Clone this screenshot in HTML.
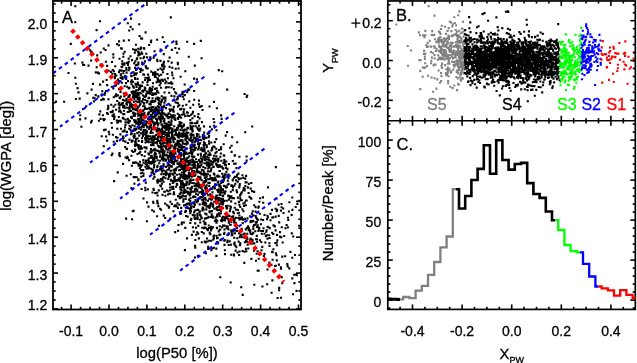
<!DOCTYPE html>
<html><head><meta charset="utf-8"><style>
html,body{margin:0;padding:0;background:#fff;}
svg{display:block;font-family:"Liberation Sans", sans-serif;will-change:transform;}
</style></head><body>
<svg xmlns="http://www.w3.org/2000/svg" width="637" height="363" viewBox="0 0 637 363">
<rect width="637" height="363" fill="#fff"/>
<g id="scA"><path d="M172.3 186.8h0M138.4 123.0h0M161.0 132.3h0M194.5 202.2h0M279.2 287.9h0M130.6 103.3h0M160.5 60.9h0M133.0 109.1h0M157.7 139.2h0M138.2 113.3h0M193.1 160.5h0M179.0 170.3h0M91.8 120.8h0M181.2 153.3h0M90.2 50.4h0M216.9 108.3h0M262.3 246.9h0M198.0 199.0h0M204.5 156.5h0M184.1 109.4h0M182.5 91.9h0M151.1 156.8h0M146.7 132.5h0M229.9 211.1h0M159.1 100.6h0M159.3 113.4h0M202.4 209.1h0M151.5 127.2h0M164.3 113.6h0M127.2 86.7h0M162.7 152.6h0M152.1 117.7h0M233.2 212.2h0M148.9 123.0h0M194.9 204.6h0M169.6 156.4h0M170.5 154.2h0M261.2 231.0h0M219.4 234.9h0M129.5 87.7h0M140.5 122.5h0M148.5 98.2h0M204.8 241.6h0M170.6 170.8h0M177.1 128.3h0M175.2 232.1h0M159.2 128.8h0M198.0 176.7h0M120.4 134.4h0M121.5 66.8h0M160.1 208.8h0M199.0 100.6h0M183.6 112.4h0M175.7 102.5h0M145.4 130.1h0M190.5 147.9h0M181.6 108.8h0M181.1 140.4h0M163.6 98.7h0M190.8 138.1h0M186.7 162.1h0M173.3 140.3h0M171.5 128.6h0M224.9 250.2h0M136.1 69.9h0M152.7 132.7h0M193.5 135.2h0M181.2 174.7h0M120.9 74.2h0M141.8 120.2h0M124.1 71.0h0M128.9 40.2h0M172.0 117.8h0M161.5 151.7h0M243.7 188.0h0M123.5 53.8h0M190.7 189.6h0M179.7 140.9h0M186.5 160.2h0M103.8 120.3h0M199.7 198.4h0M166.6 137.2h0M114.1 181.1h0M207.6 133.6h0M145.6 124.6h0M192.3 123.3h0M145.0 97.0h0M199.8 178.0h0M119.2 102.7h0M162.9 117.9h0M143.4 114.2h0M138.5 97.6h0M167.6 165.6h0M133.5 112.6h0M222.6 168.0h0M170.1 111.0h0M273.5 225.4h0M178.5 157.1h0M132.8 92.0h0M212.0 147.9h0M134.8 122.2h0M168.5 138.5h0M138.6 119.7h0M158.5 123.7h0M214.5 147.1h0M154.0 167.4h0M133.1 49.3h0M237.8 213.3h0M138.9 132.2h0M187.0 141.8h0M150.3 93.6h0M171.9 134.3h0M207.1 192.3h0M150.7 117.4h0M227.1 208.4h0M173.2 174.7h0M209.3 165.7h0M213.5 236.5h0M213.9 125.8h0M131.8 106.6h0M211.1 161.2h0M168.3 191.3h0M186.1 216.0h0M126.9 104.6h0M134.2 120.1h0M253.4 215.3h0M183.7 155.0h0M107.1 140.6h0M180.8 140.0h0M179.0 126.0h0M134.4 99.2h0M133.6 210.9h0M93.9 101.4h0M80.1 119.4h0M154.0 125.1h0M146.5 147.6h0M166.3 172.4h0M243.2 219.8h0M145.9 121.2h0M139.9 92.7h0M124.0 110.8h0M137.6 78.9h0M134.8 97.0h0M140.0 121.2h0M237.2 238.3h0M209.7 232.8h0M132.5 107.8h0M180.1 213.6h0M130.6 26.9h0M220.8 153.5h0M168.6 118.3h0M133.7 163.0h0M136.2 129.0h0M154.5 176.9h0M250.1 216.3h0M223.0 201.2h0M239.6 185.7h0M181.5 148.1h0M269.4 243.2h0M217.4 207.1h0M196.9 171.3h0M208.8 225.5h0M163.5 63.9h0M129.2 128.7h0M254.2 205.3h0M157.0 90.9h0M148.6 78.1h0M168.1 135.8h0M201.8 180.2h0M186.6 165.4h0M178.0 156.2h0M190.6 198.2h0M215.7 197.4h0M135.9 44.7h0M241.9 217.3h0M189.7 164.8h0M246.0 200.5h0M221.1 115.4h0M159.3 129.5h0M144.4 96.9h0M187.8 193.8h0M164.2 66.3h0M206.3 209.4h0M127.8 118.7h0M124.6 86.3h0M177.2 184.6h0M185.3 139.2h0M157.4 91.4h0M135.1 67.9h0M147.5 122.1h0M198.3 225.9h0M150.5 151.4h0M228.2 176.9h0M257.7 270.8h0M181.9 222.5h0M258.6 270.6h0M163.6 164.0h0M281.6 207.2h0M133.6 108.6h0M138.2 115.6h0M161.0 209.7h0M263.5 228.3h0M207.3 165.6h0M181.8 169.0h0M220.9 213.2h0M143.9 130.2h0M238.0 210.0h0M187.2 41.8h0M144.4 114.2h0M220.1 200.2h0M175.0 159.6h0M197.8 209.9h0M162.4 140.8h0M121.8 70.6h0M184.7 164.2h0M182.4 175.4h0M163.0 72.3h0M174.6 178.3h0M215.0 184.3h0M279.2 222.4h0M191.6 169.1h0M204.6 150.6h0M207.5 162.7h0M162.0 139.2h0M188.0 157.8h0M151.4 155.9h0M141.6 189.0h0M195.2 167.7h0M178.2 180.5h0M218.9 213.2h0M150.0 103.9h0M158.7 103.1h0M180.7 109.4h0M231.4 230.4h0M173.2 186.8h0M156.6 82.3h0M171.5 121.6h0M219.7 165.3h0M116.1 137.1h0M197.2 191.1h0M235.5 245.6h0M253.2 220.8h0M180.4 149.6h0M182.2 114.8h0M154.6 101.8h0M137.5 94.7h0M135.0 73.6h0M218.5 202.7h0M148.8 142.2h0M154.3 116.9h0M204.0 228.3h0M148.0 93.3h0M143.0 95.5h0M166.6 116.2h0M197.6 218.3h0M118.7 104.1h0M148.7 112.5h0M224.2 240.8h0M204.4 227.5h0M213.8 173.6h0M158.7 80.3h0M221.7 166.5h0M271.6 292.7h0M189.7 180.9h0M181.1 161.3h0M179.3 204.8h0M222.1 227.3h0M179.6 134.7h0M171.8 204.0h0M212.2 149.7h0M209.7 153.4h0M180.7 144.7h0M190.3 120.1h0M119.1 41.4h0M232.8 190.1h0M163.4 159.7h0M183.0 183.4h0M112.5 153.5h0M204.7 144.1h0M79.7 98.6h0M196.5 139.6h0M184.0 156.5h0M141.3 127.5h0M142.9 134.1h0M181.9 172.5h0M107.7 109.3h0M151.4 90.5h0M194.8 65.6h0M138.7 141.0h0M261.5 250.3h0M217.1 215.2h0M126.6 175.7h0M226.3 161.5h0M145.4 166.8h0M204.3 194.3h0M202.5 174.1h0M123.8 40.6h0M179.8 165.2h0M147.4 126.2h0M242.7 223.1h0M179.4 174.2h0M228.8 220.6h0M214.2 201.7h0M174.6 139.3h0M249.5 196.9h0M290.4 251.9h0M151.0 111.3h0M166.1 148.3h0M138.2 84.7h0M151.5 172.8h0M162.8 149.4h0M131.4 188.1h0M124.2 105.7h0M143.3 176.0h0M161.5 140.1h0M151.8 161.8h0M211.1 188.6h0M183.4 143.7h0M123.3 56.8h0M131.9 165.7h0M240.9 200.3h0M157.8 113.6h0M172.1 72.6h0M132.7 29.2h0M145.3 190.3h0M144.9 116.6h0M171.5 124.8h0M211.2 196.5h0M251.4 198.7h0M182.7 93.4h0M147.0 101.6h0M129.5 139.6h0M269.2 235.2h0M97.2 55.4h0M193.7 196.3h0M292.3 197.5h0M119.9 156.2h0M142.8 110.9h0M210.7 211.4h0M145.3 88.6h0M206.0 181.4h0M283.5 213.0h0M172.3 132.3h0M154.3 74.1h0M175.2 157.3h0M165.2 218.0h0M213.6 119.0h0M151.0 149.0h0M180.4 136.4h0M206.1 174.8h0M152.1 110.0h0M184.7 147.5h0M150.8 91.6h0M214.5 174.6h0M194.4 183.4h0M149.5 104.0h0M147.8 114.5h0M137.0 145.1h0M135.5 142.0h0M151.1 131.3h0M206.7 193.4h0M114.9 76.2h0M154.1 94.2h0M193.6 171.3h0M171.1 82.2h0M224.2 200.9h0M185.2 211.9h0M229.5 175.6h0M182.3 176.8h0M137.3 64.8h0M266.3 231.6h0M126.3 103.5h0M162.7 37.2h0M162.0 159.4h0M207.0 238.5h0M177.7 118.0h0M220.7 187.0h0M146.5 168.8h0M162.3 66.2h0M170.2 193.7h0M233.9 254.6h0M206.0 174.0h0M220.4 156.8h0M211.4 150.5h0M136.1 91.1h0M169.0 144.7h0M151.0 109.8h0M200.7 158.2h0M186.3 137.5h0M146.3 53.8h0M148.2 159.9h0M189.0 199.6h0M150.5 133.0h0M176.8 183.9h0M186.3 104.8h0M103.8 99.4h0M133.5 86.7h0M107.2 65.9h0M122.5 79.0h0M146.9 221.2h0M153.9 101.4h0M226.0 206.0h0M190.3 209.5h0M183.4 199.4h0M181.2 184.9h0M272.0 209.9h0M193.6 146.6h0M218.8 70.1h0M185.4 185.2h0M167.4 74.0h0M167.4 125.5h0M56.0 101.6h0M231.2 254.8h0M134.0 137.6h0M205.0 218.6h0M244.8 202.5h0M143.6 173.8h0M235.6 163.6h0M172.8 115.3h0M156.0 153.7h0M236.0 217.8h0M239.1 255.0h0M137.4 84.4h0M226.9 187.2h0M228.5 178.0h0M154.4 159.3h0M140.7 49.1h0M161.4 148.7h0M198.2 165.6h0M112.5 115.6h0M165.9 172.4h0M214.0 235.5h0M167.9 78.2h0M187.7 192.9h0M165.5 138.9h0M204.1 198.7h0M186.7 170.2h0M167.6 145.4h0M179.2 150.8h0M171.9 49.9h0M212.2 180.2h0M154.8 136.2h0M253.7 243.3h0M196.2 234.7h0M129.6 108.3h0M275.6 230.4h0M129.1 160.1h0M206.3 177.5h0M233.5 229.9h0M139.1 118.9h0M143.0 132.0h0M218.7 231.4h0M186.4 152.5h0M156.6 139.0h0M171.4 152.4h0M209.4 171.5h0M149.2 128.5h0M68.5 73.0h0M160.3 117.6h0M219.8 226.2h0M187.0 112.4h0M165.5 97.6h0M162.4 132.8h0M161.3 174.2h0M267.5 238.8h0M197.6 165.3h0M160.5 68.6h0M233.3 211.8h0M231.6 145.8h0M204.1 132.6h0M143.3 74.4h0M148.3 118.7h0M188.6 176.4h0M150.9 115.6h0M205.1 205.1h0M194.1 78.6h0M184.0 205.4h0M189.1 184.2h0M157.0 131.4h0M173.3 164.3h0M250.7 221.0h0M139.2 135.6h0M206.8 192.0h0M188.1 165.2h0M169.2 92.8h0M161.3 166.3h0M133.7 115.0h0M145.8 182.6h0M169.2 174.3h0M243.3 177.9h0M185.8 192.0h0M140.1 85.2h0M186.0 196.3h0M157.1 120.4h0M131.7 141.8h0M217.7 237.8h0M248.2 226.2h0M144.7 134.5h0M138.2 113.4h0M202.9 135.0h0M169.4 127.3h0M269.5 246.0h0M154.0 126.2h0M193.6 231.6h0M179.4 143.7h0M157.6 182.7h0M243.5 234.4h0M197.7 138.5h0M209.7 182.9h0M210.0 206.4h0M218.4 198.8h0M174.1 157.3h0M209.4 182.8h0M133.8 101.9h0M126.3 68.0h0M226.8 218.3h0M176.5 43.9h0M163.8 54.1h0M191.3 208.3h0M125.5 122.2h0M151.3 71.6h0M214.3 83.8h0M216.6 151.7h0M171.7 62.6h0M191.9 234.9h0M277.0 234.9h0M208.4 163.7h0M236.5 168.1h0M125.5 125.0h0M194.7 165.9h0M254.0 250.6h0M255.8 216.1h0M174.6 117.9h0M190.3 188.9h0M147.0 108.8h0M193.6 165.6h0M189.2 164.3h0M164.1 106.6h0M159.2 128.8h0M217.1 216.5h0M153.6 110.2h0M111.7 155.1h0M164.7 146.8h0M150.7 101.5h0M214.3 122.2h0M151.9 137.7h0M197.5 121.3h0M185.5 167.0h0M205.6 224.2h0M161.2 131.3h0M183.1 150.7h0M194.1 43.9h0M234.4 185.8h0M184.0 124.6h0M220.3 277.2h0M184.2 196.3h0M222.6 177.3h0M193.2 167.7h0M110.8 112.1h0M222.4 195.5h0M152.3 169.8h0M220.1 166.8h0M227.4 168.8h0M128.8 61.8h0M217.6 242.0h0M70.8 43.9h0M185.3 227.9h0M161.8 170.4h0M153.5 150.4h0M232.7 180.5h0M198.2 164.1h0M210.6 205.5h0M199.9 162.5h0M197.6 167.6h0M169.8 160.9h0M169.1 206.6h0M196.4 171.5h0M123.1 163.9h0M185.6 211.2h0M143.2 170.1h0M211.9 198.6h0M189.8 173.6h0M250.6 222.1h0M246.7 200.5h0M239.6 251.5h0M164.2 141.6h0M193.7 191.8h0M256.7 253.8h0M227.7 205.8h0M155.9 110.3h0M185.4 143.9h0M156.8 122.5h0M190.2 152.7h0M200.3 222.5h0M222.8 204.4h0M153.0 94.5h0M206.8 164.5h0M187.1 138.5h0M175.4 120.0h0M215.0 160.4h0M217.8 159.4h0M119.3 108.4h0M213.1 204.4h0M170.5 147.8h0M190.8 188.9h0M178.0 106.4h0M203.8 171.8h0M145.7 66.1h0M258.7 206.6h0M194.1 150.2h0M197.2 232.3h0M136.4 109.0h0M142.9 136.1h0M190.4 194.3h0M121.9 103.4h0M194.5 217.6h0M156.9 142.1h0M119.3 154.9h0M130.5 129.7h0M138.2 51.6h0M194.1 212.4h0M239.5 219.5h0M173.9 164.1h0M183.8 192.9h0M220.1 195.0h0M128.5 120.3h0M142.3 172.7h0M190.9 127.1h0M148.9 117.4h0M150.0 103.9h0M223.8 155.3h0M193.4 164.3h0M206.8 206.3h0M184.9 250.1h0M122.9 103.1h0M230.7 282.5h0M197.3 213.8h0M183.5 164.6h0M115.0 74.0h0M203.2 200.2h0M130.9 134.2h0M210.2 228.0h0M199.9 173.0h0M138.6 165.6h0M96.7 67.2h0M181.6 167.2h0M180.4 189.3h0M210.4 234.2h0M147.7 68.4h0M174.8 179.8h0M126.5 100.2h0M231.1 196.9h0M158.4 92.7h0M163.4 154.6h0M180.8 192.6h0M130.0 106.4h0M210.8 204.1h0M147.7 108.7h0M179.6 122.1h0M99.0 73.5h0M125.4 141.6h0M215.8 160.3h0M224.1 178.4h0M196.3 185.4h0M177.6 145.1h0M175.1 149.0h0M142.2 101.6h0M219.9 171.0h0M157.1 119.1h0M181.0 159.1h0M138.4 146.7h0M193.3 179.9h0M145.4 77.7h0M154.6 148.7h0M120.5 91.9h0M136.2 123.6h0M151.0 127.5h0M153.2 201.9h0M134.5 93.5h0M235.8 222.7h0M147.8 166.3h0M237.0 192.3h0M216.5 222.8h0M201.7 106.1h0M176.4 41.6h0M142.0 142.0h0M142.1 85.9h0M259.7 213.7h0M189.1 192.8h0M210.1 194.3h0M204.4 181.1h0M125.0 127.4h0M217.9 210.1h0M198.5 182.9h0M197.8 149.5h0M291.8 233.4h0M236.7 209.8h0M186.7 181.6h0M234.2 244.3h0M158.9 133.4h0M136.2 101.3h0M196.8 134.0h0M152.0 129.2h0M179.3 105.3h0M192.2 142.5h0M178.5 125.2h0M153.3 122.3h0M234.0 255.5h0M153.4 107.1h0M238.3 218.0h0M139.7 115.2h0M187.4 153.7h0M203.8 146.3h0M224.8 240.0h0M188.8 203.4h0M287.3 264.1h0M159.5 98.3h0M139.0 126.7h0M276.6 198.5h0M208.3 248.3h0M129.8 110.4h0M151.2 119.0h0M157.8 106.4h0M160.2 185.5h0M189.2 116.0h0M158.3 136.6h0M231.2 221.8h0M135.1 50.0h0M198.5 134.5h0M186.7 134.2h0M183.9 222.5h0M162.4 180.2h0M174.8 173.1h0M224.5 225.6h0M196.8 162.0h0M118.8 117.0h0M169.6 109.2h0M198.0 144.0h0M190.7 145.6h0M148.5 166.4h0M125.0 76.1h0M104.7 94.7h0M139.7 153.1h0M232.3 198.1h0M222.2 71.3h0M175.3 92.3h0M178.9 146.2h0M202.7 203.4h0M164.6 123.4h0M193.5 215.3h0M126.4 100.3h0M138.8 121.0h0M221.8 207.6h0M173.6 194.2h0M151.1 125.0h0M203.3 157.0h0M166.7 126.2h0M228.4 219.0h0M106.6 80.0h0M155.0 138.6h0M233.6 230.6h0M149.5 89.3h0M241.8 192.2h0M272.4 280.4h0M147.0 165.1h0M154.0 211.5h0M155.5 74.7h0M147.2 68.4h0M173.6 155.3h0M254.1 225.1h0M165.8 87.7h0M156.7 88.2h0M98.4 96.2h0M202.2 227.8h0M216.4 255.9h0M237.0 231.0h0M149.1 97.9h0M135.2 142.1h0M186.5 185.3h0M219.3 206.5h0M270.5 220.3h0M210.2 189.3h0M205.2 213.5h0M171.6 145.8h0M214.1 155.8h0M177.4 160.5h0M185.0 171.2h0M245.2 132.3h0M135.3 61.4h0M164.1 153.1h0M142.9 115.3h0M166.0 108.1h0M199.8 107.0h0M157.2 180.9h0M229.8 198.3h0M228.5 229.4h0M126.8 107.7h0M224.3 159.7h0M241.2 287.2h0M204.6 223.1h0M184.3 114.3h0M138.4 118.9h0M215.9 179.9h0M155.9 98.5h0M179.5 196.7h0M195.6 210.3h0M168.9 169.5h0M144.8 87.6h0M276.8 260.4h0M209.2 185.9h0M170.7 123.5h0M143.3 120.3h0M100.6 118.9h0M124.6 100.6h0M223.2 219.9h0M208.2 248.9h0M156.1 112.7h0M128.0 81.1h0M173.7 147.3h0M263.1 220.0h0M131.2 81.9h0M190.5 125.9h0M178.6 68.5h0M204.3 181.8h0M169.6 126.2h0M113.7 141.7h0M157.7 124.0h0M219.9 207.0h0M182.3 134.9h0M195.5 200.1h0M152.7 144.9h0M175.5 131.0h0M216.5 235.7h0M169.3 161.9h0M117.1 44.1h0M168.8 121.9h0M144.9 109.0h0M234.3 222.2h0M100.3 111.4h0M118.0 79.6h0M157.3 200.9h0M175.2 169.4h0M131.5 116.9h0M244.3 251.8h0M227.9 234.8h0M180.8 150.0h0M157.0 143.5h0M133.0 112.7h0M153.7 190.0h0M127.8 158.1h0M189.1 208.4h0M130.0 105.4h0M207.9 171.4h0M248.7 229.5h0M232.4 231.2h0M219.8 229.6h0M126.6 72.6h0M75.9 99.0h0M234.7 207.7h0M128.7 70.2h0M211.3 250.2h0M126.5 148.7h0M125.1 147.0h0M158.6 106.7h0M156.9 156.8h0M216.6 207.7h0M119.5 153.1h0M190.7 167.9h0M153.6 136.9h0M227.5 240.5h0M203.1 208.0h0M183.6 155.2h0M158.7 116.5h0M160.2 169.3h0M153.4 203.0h0M164.2 42.0h0M251.4 258.9h0M133.0 97.0h0M135.1 78.0h0M218.9 209.9h0M149.2 91.3h0M217.0 164.8h0M198.1 185.6h0M180.7 176.6h0M216.4 156.4h0M225.7 135.6h0M168.0 117.8h0M167.9 142.6h0M193.7 203.7h0M179.8 124.6h0M120.0 98.3h0M243.3 190.2h0M261.2 219.5h0M170.4 142.2h0M173.3 116.6h0M209.5 211.3h0M108.5 99.2h0M175.9 168.6h0M198.8 160.0h0M174.2 148.1h0M202.3 189.8h0M150.1 109.5h0M254.3 284.8h0M141.1 133.4h0M155.5 72.3h0M188.7 175.4h0M209.5 155.2h0M193.0 173.2h0M222.3 217.8h0M152.9 112.9h0M188.5 169.5h0M217.3 190.1h0M166.5 124.9h0M269.4 262.5h0M234.2 244.0h0M131.0 18.6h0M259.4 228.2h0M173.9 162.3h0M83.1 109.0h0M248.9 228.4h0M151.1 142.3h0M209.5 160.3h0M157.9 69.8h0M282.3 283.2h0M201.2 140.2h0M222.1 218.7h0M224.6 217.3h0M173.9 163.5h0M198.0 129.3h0M145.3 151.6h0M252.6 240.7h0M173.8 156.1h0M287.8 227.4h0M183.4 143.8h0M202.1 161.7h0M187.5 207.9h0M199.5 212.4h0M211.5 164.6h0M164.7 128.4h0M197.6 186.3h0M162.8 117.1h0M165.1 131.7h0M169.6 113.7h0M224.5 229.5h0M212.7 217.7h0M171.6 132.0h0M241.7 228.9h0M171.2 170.7h0M171.6 166.7h0M131.2 75.8h0M182.7 130.3h0M218.3 181.6h0M212.0 211.1h0M113.7 114.5h0M226.4 172.0h0M207.9 229.8h0M222.4 192.5h0M127.0 62.9h0M194.0 161.3h0M144.1 124.3h0M194.6 173.9h0M216.6 165.0h0M183.6 91.7h0M191.9 187.3h0M228.2 195.6h0M138.8 52.8h0M168.2 158.8h0M160.8 120.1h0M135.2 149.9h0M178.7 137.6h0M188.0 191.7h0M252.8 211.3h0M184.4 192.7h0M204.3 136.7h0M172.6 157.1h0M189.6 204.9h0M273.4 249.3h0M293.2 236.5h0M168.3 178.9h0M151.8 89.0h0M147.1 131.4h0M261.8 233.7h0M154.6 51.2h0M135.7 140.9h0M231.6 151.9h0M184.3 158.6h0M134.9 144.9h0M163.3 145.9h0M202.8 137.3h0M272.2 232.8h0M162.9 155.2h0M136.2 90.2h0M144.1 117.0h0M228.8 199.6h0M257.0 218.9h0M146.6 109.0h0M100.2 84.7h0M238.6 241.6h0M125.6 93.0h0M181.5 133.6h0M157.2 167.3h0M299.3 200.9h0M197.6 181.8h0M217.3 166.5h0M276.7 211.3h0M187.7 143.5h0M155.9 156.6h0M179.2 132.5h0M228.3 174.5h0M201.8 242.3h0M172.1 161.0h0M207.0 156.8h0M158.0 181.2h0M152.8 137.8h0M193.3 175.8h0M131.6 92.0h0M211.3 202.8h0M212.4 248.4h0M141.3 118.8h0M228.6 183.9h0M175.1 205.2h0M137.9 98.1h0M155.4 109.0h0M171.2 158.4h0M152.4 158.0h0M174.8 176.7h0M142.0 126.5h0M210.3 204.8h0M187.7 138.1h0M287.7 266.4h0M183.6 165.3h0M227.7 184.7h0M210.9 204.2h0M204.4 144.1h0M221.3 160.7h0M182.5 136.8h0M227.1 132.1h0M170.4 154.1h0M161.0 166.9h0M207.1 162.4h0M242.4 209.2h0M163.6 63.4h0M140.2 114.7h0M160.8 132.9h0M224.7 177.7h0M150.5 117.4h0M192.4 140.4h0M183.4 178.1h0M170.1 187.5h0M128.9 108.4h0M132.0 140.6h0M110.9 71.9h0M294.2 274.7h0M176.0 206.2h0M198.0 141.6h0M205.8 227.8h0M150.9 163.6h0M187.5 182.5h0M130.5 56.2h0M174.3 146.5h0M133.2 152.0h0M132.9 104.8h0M217.8 161.8h0M133.0 86.3h0M245.2 178.6h0M150.5 58.9h0M296.8 275.1h0M183.7 131.5h0M191.0 151.9h0M143.2 91.7h0M183.2 184.6h0M157.8 140.8h0M209.5 179.1h0M147.8 189.4h0M133.3 95.0h0M149.2 128.9h0M170.0 138.5h0M113.4 57.5h0M185.7 138.5h0M169.1 125.2h0M154.9 128.8h0M119.0 72.1h0M234.0 198.2h0M157.8 112.0h0M154.1 123.5h0M253.2 232.9h0M120.6 78.0h0M167.1 140.4h0M159.6 146.3h0M120.8 96.6h0M170.8 152.4h0M175.1 129.7h0M237.5 252.5h0M192.4 131.4h0M190.9 203.6h0M101.7 94.5h0M160.8 146.6h0M228.6 233.3h0M156.5 130.6h0M208.2 246.7h0M192.9 227.3h0M160.6 49.6h0M180.1 181.0h0M197.5 215.6h0M212.1 227.7h0M175.6 153.6h0M178.1 103.3h0M143.3 160.1h0M293.0 294.2h0M159.0 225.7h0M179.0 151.1h0M194.5 165.7h0M236.4 247.2h0M252.8 221.4h0M146.1 116.5h0M228.6 234.0h0M192.6 134.7h0M177.8 129.4h0M145.5 96.1h0M204.3 149.2h0M200.0 165.8h0M147.0 101.1h0M212.4 163.6h0M207.1 229.1h0M255.6 211.6h0M198.9 171.9h0M117.7 172.4h0M275.1 266.0h0M180.7 187.1h0M177.8 163.5h0M239.8 184.0h0M184.2 154.6h0M184.1 185.6h0M200.9 185.7h0M155.9 115.0h0M213.0 162.5h0M152.3 117.0h0M281.8 227.2h0M186.4 204.2h0M158.6 110.9h0M177.8 62.9h0M161.0 102.5h0M230.1 224.8h0M163.2 138.5h0M171.5 95.9h0M149.1 112.3h0M204.4 163.2h0M201.9 194.0h0M227.9 226.6h0M212.9 206.6h0M129.3 96.4h0M215.3 198.4h0M172.2 109.4h0M211.0 230.4h0M128.7 58.6h0M229.1 196.1h0M221.1 147.2h0M145.3 124.2h0M152.2 210.3h0M128.6 123.1h0M203.9 142.4h0M195.3 196.8h0M187.4 178.8h0M77.6 88.1h0M142.6 70.2h0M122.4 77.1h0M75.3 77.7h0M155.5 77.0h0M198.2 199.2h0M82.4 62.5h0M227.6 235.0h0M196.0 159.2h0M141.6 113.4h0M93.2 97.8h0M153.0 144.5h0M196.9 79.4h0M186.8 175.9h0M174.5 179.3h0M234.7 155.6h0M198.3 184.1h0M233.5 218.3h0M152.7 136.2h0M267.9 217.3h0M204.9 188.2h0M162.6 168.0h0M150.9 42.3h0M195.0 162.4h0M135.5 83.8h0M175.3 147.8h0M189.0 177.5h0M211.0 199.2h0M159.3 141.0h0M128.4 97.2h0M152.5 192.5h0M209.6 164.1h0M154.2 174.1h0M213.1 205.8h0M197.4 127.9h0M160.1 130.0h0M120.4 120.9h0M278.9 264.6h0M180.4 153.9h0M157.6 165.9h0M142.1 38.6h0M183.3 168.2h0M161.9 99.8h0M152.3 100.8h0M171.6 117.4h0M213.7 166.9h0M275.9 167.1h0M162.0 118.7h0M174.9 215.6h0M199.3 160.9h0M182.7 184.4h0M144.5 147.4h0M203.0 192.4h0M212.8 178.1h0M192.1 154.1h0M185.7 198.9h0M203.6 202.5h0M292.3 278.4h0M130.7 104.3h0M201.3 106.2h0M194.6 191.6h0M214.0 179.6h0M176.4 144.5h0M205.1 160.2h0M128.4 101.8h0M246.0 241.4h0M178.3 143.0h0M205.6 202.5h0M138.5 52.1h0M177.5 140.9h0M179.4 166.4h0M161.6 107.0h0M234.6 242.6h0M158.3 118.7h0M192.6 162.0h0M146.2 136.0h0M267.5 269.5h0M188.6 89.4h0M228.4 196.0h0M148.6 114.1h0M216.7 209.6h0M239.4 205.0h0M148.4 153.5h0M232.9 187.5h0M244.6 94.0h0M168.6 132.6h0M180.1 117.0h0M160.6 167.1h0M143.5 198.5h0M140.3 103.9h0M133.7 177.1h0M141.0 117.2h0M250.2 230.2h0M239.7 237.3h0M157.8 125.5h0M164.5 158.8h0M234.7 229.4h0M274.8 226.4h0M153.5 117.7h0M197.9 166.9h0M240.3 243.4h0M163.1 81.0h0M171.5 137.6h0M240.1 236.4h0M209.6 212.1h0M250.3 232.0h0M139.9 164.6h0M181.8 147.0h0M258.1 219.8h0M208.3 151.3h0M149.9 80.0h0M224.4 192.1h0M117.2 101.0h0M139.7 89.2h0M169.6 66.9h0M170.0 153.6h0M199.7 204.4h0M175.9 170.3h0M206.6 218.1h0M170.8 17.4h0M251.9 213.6h0M202.7 204.1h0M202.8 207.6h0M158.0 137.5h0M240.1 195.7h0M166.9 128.2h0M203.5 182.8h0M205.3 197.9h0M203.4 201.4h0M142.1 165.3h0M173.6 142.3h0M180.0 170.0h0M236.1 209.8h0M159.5 147.3h0M239.9 244.7h0M136.3 162.8h0M170.2 145.5h0M105.6 129.6h0M201.8 218.3h0M152.7 86.8h0M201.8 232.0h0M149.8 162.1h0M152.6 144.4h0M178.6 142.6h0M226.8 228.2h0M148.5 141.0h0M152.9 94.9h0M219.2 190.6h0M174.9 161.3h0M157.4 74.1h0M112.0 62.0h0M223.2 203.0h0M113.6 106.6h0M211.3 142.5h0M163.6 121.3h0M248.7 230.3h0M183.6 134.8h0M171.9 166.8h0M179.3 155.9h0M192.0 154.1h0M161.7 96.3h0M236.6 176.8h0M194.5 145.1h0M179.8 198.2h0M161.0 186.3h0M116.8 120.5h0M208.5 216.8h0M172.4 189.0h0M205.5 152.9h0M132.7 140.7h0M177.7 97.1h0M159.9 160.8h0M151.1 114.9h0M138.2 163.8h0M264.5 215.0h0M197.6 179.9h0M220.9 188.2h0M177.2 52.7h0M198.8 147.9h0M142.2 63.8h0M155.6 116.4h0M182.1 114.7h0M146.7 102.5h0M147.2 78.1h0M168.2 149.6h0M170.3 201.8h0M64.1 101.7h0M147.5 136.5h0M160.8 136.7h0M247.7 244.6h0M194.0 206.9h0M123.3 114.1h0M213.5 158.5h0M179.6 163.2h0M196.0 227.8h0M139.2 153.0h0M264.5 233.8h0M169.2 167.8h0M181.5 189.9h0M75.9 83.8h0M191.9 176.6h0M145.2 187.7h0M244.0 206.0h0M177.4 167.4h0M127.3 102.2h0M279.9 232.1h0M146.4 123.5h0M175.8 199.7h0M75.3 6.2h0M172.3 158.0h0M231.3 231.2h0M140.3 151.7h0M183.0 159.3h0M253.3 228.9h0M191.1 173.2h0M189.2 174.5h0M197.6 182.3h0M241.3 219.1h0M226.2 216.8h0M140.1 54.4h0M117.0 140.9h0M156.4 108.7h0M154.6 109.5h0M219.5 184.5h0M183.3 201.6h0M173.4 188.9h0M146.5 148.4h0M187.7 216.6h0M216.9 228.1h0M196.2 123.3h0M156.6 157.5h0M184.0 147.0h0M226.6 200.7h0M186.6 183.8h0M164.9 146.2h0M131.9 118.3h0M209.0 207.1h0M188.8 56.8h0M192.4 113.8h0M178.0 207.9h0M167.7 141.3h0M101.7 136.3h0M124.3 64.8h0M98.2 96.7h0M279.9 236.6h0M183.3 169.8h0M227.8 180.6h0M168.8 175.2h0M154.9 152.9h0M173.8 106.9h0M225.8 164.9h0M189.1 170.4h0M162.6 109.7h0M165.8 166.8h0M205.3 222.7h0M161.8 158.4h0M268.0 187.4h0M205.9 190.0h0M151.7 140.0h0M133.1 162.6h0M263.2 202.8h0M129.0 67.5h0M203.3 167.0h0M135.5 162.2h0M174.1 115.2h0M191.1 180.5h0M203.6 209.6h0M220.6 186.3h0M176.9 99.4h0M240.5 218.1h0M201.8 192.7h0M184.4 135.8h0M246.3 240.6h0M196.6 184.1h0M151.4 168.9h0M194.1 91.0h0M257.0 239.3h0M149.4 168.3h0M222.8 200.3h0M224.8 174.4h0M153.1 159.4h0M200.4 197.1h0M202.4 197.0h0M239.3 187.4h0M146.9 137.2h0M237.2 142.2h0M218.7 184.7h0M232.1 185.5h0M84.2 65.0h0M157.0 119.6h0M130.9 127.3h0M171.8 145.5h0M213.9 247.8h0M221.3 182.9h0M134.5 128.7h0M210.6 154.8h0M194.7 215.4h0M228.8 222.7h0M163.1 107.1h0M184.1 172.9h0M206.7 185.4h0M177.7 113.8h0M215.5 217.6h0M187.1 138.5h0M136.7 177.3h0M155.2 100.9h0M206.8 145.4h0M145.4 131.4h0M168.0 194.5h0M230.0 147.8h0M118.0 122.1h0M164.9 191.7h0M178.3 157.9h0M189.4 153.3h0M225.0 164.7h0M120.8 75.4h0M151.7 107.1h0M179.0 133.7h0M138.4 64.1h0M186.4 144.4h0M164.2 134.0h0M206.1 180.0h0M214.1 186.6h0M162.2 171.4h0M226.7 227.5h0M169.8 117.0h0M152.7 172.4h0M145.8 162.3h0M163.8 143.0h0M148.3 136.2h0M160.1 80.9h0M148.0 113.5h0M255.3 231.2h0M74.9 63.5h0M187.0 238.4h0M125.8 122.5h0M149.4 107.8h0M203.0 138.4h0M225.9 165.5h0M173.4 182.3h0M146.4 133.3h0M133.5 72.4h0M208.3 205.8h0M139.2 24.3h0M137.1 58.3h0M211.8 216.5h0M212.2 149.4h0M136.4 143.6h0M129.4 67.7h0M134.4 183.7h0M233.9 213.3h0M141.2 176.8h0M162.1 124.7h0M197.9 255.9h0M206.8 147.3h0M155.5 128.8h0M154.3 165.1h0M210.4 178.3h0M203.7 221.2h0M157.1 216.2h0M122.3 64.0h0M188.4 132.7h0M100.7 52.5h0M218.5 158.7h0M138.4 62.5h0M194.6 142.2h0M160.5 110.0h0M165.9 114.7h0M178.7 178.5h0M197.6 180.2h0M153.0 83.2h0M183.2 169.1h0M219.6 216.0h0M115.3 104.8h0M178.3 126.7h0M197.1 136.0h0M113.8 114.2h0M197.7 218.9h0M263.0 197.4h0M134.8 136.3h0M191.3 136.4h0M178.0 135.1h0M239.4 156.7h0M181.3 154.5h0M149.7 127.0h0M119.5 111.2h0M177.8 151.1h0M270.5 213.9h0M143.6 110.0h0M267.4 215.7h0M157.6 97.5h0M216.1 163.8h0M78.5 92.4h0M157.2 192.7h0M153.6 57.8h0M129.7 126.0h0M156.8 122.9h0M250.8 234.0h0M180.1 164.6h0M169.1 104.3h0M155.5 94.2h0M276.8 242.5h0M164.3 105.6h0M148.9 163.1h0M141.2 170.0h0M255.5 224.7h0M180.7 125.5h0M153.4 178.8h0M133.8 87.6h0M164.0 61.9h0M180.3 124.0h0M157.8 99.4h0M239.4 215.5h0M120.7 121.5h0M138.0 90.2h0M215.2 177.6h0M165.5 135.0h0M224.5 244.9h0M137.5 154.0h0M179.6 135.0h0M195.8 147.7h0M185.9 165.6h0M183.6 125.9h0M178.0 196.1h0M179.0 116.4h0M203.8 149.3h0M194.2 99.7h0M194.9 190.8h0M129.5 68.5h0M201.9 159.9h0M170.9 180.6h0M191.2 206.6h0M195.3 175.0h0M195.2 141.4h0M104.7 119.2h0M151.1 156.2h0M221.4 220.5h0M134.9 177.1h0M140.9 146.4h0M199.6 184.7h0M232.3 234.9h0M155.1 124.1h0M157.7 134.1h0M197.2 122.9h0M145.3 139.4h0M211.1 195.5h0M208.7 157.8h0M174.9 134.8h0M153.5 145.3h0M204.9 182.3h0M157.2 59.8h0M210.5 171.4h0M167.7 114.8h0M152.6 150.3h0M118.9 45.3h0M230.8 224.7h0M240.9 178.5h0M165.9 147.1h0M167.2 133.1h0M103.4 119.0h0M183.9 153.3h0M162.5 112.8h0M169.7 155.9h0M139.1 148.8h0M185.0 168.8h0M234.2 237.8h0M256.2 217.8h0M197.3 217.6h0M204.6 194.7h0M186.5 132.2h0M203.8 194.6h0M172.9 180.8h0M195.3 197.0h0M172.6 162.0h0M115.2 66.3h0M184.1 174.5h0M192.0 128.1h0M245.6 182.4h0M95.7 95.1h0M171.8 131.3h0M183.6 111.9h0M170.7 166.1h0M243.5 203.6h0M217.1 238.1h0M163.4 126.3h0M158.1 150.9h0M245.8 229.4h0M211.1 226.8h0M165.4 100.7h0M133.0 81.7h0M192.7 152.2h0M172.3 67.8h0M140.5 58.2h0M190.8 220.1h0M119.0 89.1h0M206.3 137.9h0M173.7 137.6h0M143.2 106.3h0M118.2 83.6h0M184.8 133.7h0M135.5 92.8h0M177.4 163.4h0M254.3 243.4h0M265.3 242.5h0M138.5 179.4h0M190.4 107.8h0M195.4 240.0h0M159.2 163.2h0M162.5 194.9h0M203.6 183.3h0M214.0 101.9h0M137.1 65.2h0M116.1 96.1h0M141.1 38.4h0M208.5 217.5h0M216.3 248.6h0M176.8 130.0h0M144.1 74.7h0M149.9 60.3h0M292.3 257.7h0M240.9 235.2h0M174.2 126.3h0M165.5 178.2h0M152.2 172.7h0M193.0 111.9h0M174.2 206.2h0M198.9 104.4h0M273.2 217.4h0M162.9 154.0h0M168.9 207.8h0M189.9 168.1h0M202.4 210.5h0M145.7 164.0h0M198.0 178.4h0M132.8 131.0h0M111.6 123.0h0M158.1 181.9h0M143.7 129.9h0M275.8 265.7h0M124.5 130.2h0M117.3 128.8h0M172.2 128.8h0M190.5 123.1h0M123.1 107.3h0M197.4 138.8h0M191.7 206.3h0M198.4 114.1h0M141.6 118.1h0M153.1 73.0h0M123.9 105.7h0M171.2 128.3h0M169.0 136.0h0M115.7 85.7h0M236.9 230.8h0M240.1 245.2h0M150.3 118.9h0M217.8 175.6h0M163.6 177.1h0M245.9 205.2h0M125.6 157.5h0M211.2 178.7h0M199.8 167.2h0M231.3 185.4h0M250.7 198.1h0M212.5 192.4h0M139.9 105.1h0M211.8 199.2h0M187.5 115.6h0M160.7 181.3h0M138.1 119.4h0M140.9 129.8h0M140.2 87.4h0M119.3 108.0h0M161.8 151.3h0M220.8 203.8h0M204.0 157.2h0M141.8 122.8h0M172.4 83.5h0M174.4 171.6h0M247.8 187.2h0M217.7 165.2h0M161.1 140.2h0M276.5 255.2h0M179.1 149.8h0M180.4 96.1h0M153.9 162.4h0M204.9 144.8h0M191.7 191.6h0M244.3 262.9h0M131.4 155.7h0M161.8 114.0h0M173.7 142.2h0M194.7 144.8h0M180.6 76.7h0M174.8 161.2h0M140.6 116.4h0M121.0 128.8h0M215.4 158.8h0M216.4 195.6h0M126.1 218.6h0M267.2 235.2h0M187.0 148.5h0M191.7 188.3h0M171.6 87.5h0M141.0 117.2h0M213.9 238.3h0M134.6 177.2h0M149.2 158.3h0M148.1 80.4h0M244.1 237.1h0M115.4 96.1h0M131.7 133.6h0M179.5 115.0h0M114.8 78.2h0M147.4 101.1h0M201.5 148.1h0M202.0 199.7h0M164.5 97.9h0M166.0 160.7h0M171.6 162.7h0M215.6 221.2h0M194.9 148.8h0M143.8 48.0h0M142.0 148.2h0M151.1 145.1h0M170.4 105.5h0M181.8 162.4h0M155.0 155.7h0M200.1 143.4h0M135.5 109.6h0M225.5 191.4h0M222.8 208.1h0M162.7 178.3h0M267.2 284.2h0M123.3 105.9h0M134.2 63.2h0M176.1 143.6h0M163.4 160.4h0M148.9 154.5h0M142.8 125.7h0M170.3 140.1h0M166.5 87.1h0M161.9 183.7h0M218.1 243.4h0M199.8 177.0h0M247.2 95.5h0M111.2 104.8h0M176.3 93.5h0M164.5 92.5h0M163.5 160.7h0M160.3 119.7h0M223.0 216.8h0M181.4 167.4h0M193.9 163.5h0M209.2 133.0h0M138.5 93.7h0M145.6 32.4h0M182.9 133.5h0M281.0 297.7h0M174.0 89.1h0M174.5 100.5h0M200.8 172.3h0M224.1 234.0h0M179.8 194.1h0M216.2 200.0h0M211.4 199.8h0M250.8 188.6h0M167.3 173.8h0M180.6 144.9h0M153.3 143.0h0M181.1 181.6h0M171.0 166.1h0M152.1 89.9h0M197.5 171.2h0M153.2 141.9h0M135.1 79.0h0M166.1 167.0h0M149.6 138.7h0M145.3 100.0h0M184.9 189.7h0M133.6 136.4h0M199.6 136.9h0M294.4 283.1h0M141.8 101.4h0M150.3 122.5h0M140.8 121.7h0M121.9 82.8h0M177.9 64.1h0M207.9 174.3h0M172.5 173.8h0M224.2 155.8h0M162.0 158.9h0M173.4 111.4h0M145.0 130.2h0M219.5 198.0h0M265.9 236.1h0M152.0 114.8h0M144.6 106.2h0M137.6 110.8h0M163.0 131.4h0M168.4 83.2h0M219.9 229.8h0M156.7 170.6h0M117.3 122.7h0M153.1 162.7h0M165.2 203.6h0M98.9 120.8h0M176.8 135.2h0M180.9 149.9h0M181.2 207.9h0M185.7 168.1h0M167.4 138.7h0M198.5 177.3h0M200.6 149.8h0M221.2 192.8h0M161.2 130.9h0M278.7 215.9h0M190.9 150.0h0M255.7 222.2h0M167.9 128.9h0M206.1 203.8h0M245.3 186.0h0M122.2 67.0h0M160.7 179.0h0M156.1 119.0h0M146.4 93.7h0M129.7 95.1h0M221.6 198.9h0M239.0 212.7h0M157.3 109.5h0M231.2 201.4h0M146.0 95.6h0M205.3 163.2h0M225.0 254.1h0M257.1 227.0h0M189.8 193.8h0M174.7 115.5h0M151.0 117.4h0M119.0 111.5h0M139.1 88.3h0M141.0 69.8h0M186.1 210.7h0M102.9 98.7h0M179.5 146.9h0M185.7 190.9h0M204.9 177.8h0M151.0 157.8h0M124.2 96.3h0M95.8 72.4h0M184.4 152.6h0M163.4 143.5h0M177.2 180.1h0M165.9 47.8h0M247.1 227.9h0M242.1 237.3h0M162.7 156.4h0M201.3 217.5h0M140.9 47.6h0M148.8 161.2h0M197.2 189.5h0M198.8 144.0h0M137.6 138.5h0M185.7 205.1h0M237.1 227.9h0M170.9 109.8h0M194.9 210.6h0M220.3 234.5h0M159.2 112.5h0M174.0 152.3h0M201.0 191.7h0M159.4 151.4h0M235.8 223.5h0M102.9 115.3h0M246.6 160.6h0M227.3 242.3h0M143.4 58.2h0M157.6 160.3h0M182.6 141.7h0M119.6 97.8h0M150.3 57.3h0M166.2 81.6h0M217.0 227.9h0M124.7 51.8h0M247.5 238.8h0M200.3 162.1h0M211.3 168.4h0M172.9 187.5h0M176.6 206.4h0M193.4 156.5h0M124.6 131.3h0M205.7 242.4h0M199.8 211.4h0M146.2 140.0h0M165.2 126.1h0M174.5 118.9h0M231.7 216.7h0M166.7 149.5h0M194.2 174.0h0M128.7 88.4h0M158.2 130.4h0M201.9 197.2h0M214.2 161.1h0M131.1 131.1h0M241.8 200.2h0M154.5 72.4h0M157.4 203.1h0M234.2 177.7h0M280.9 267.2h0M150.4 89.4h0M156.6 158.0h0M212.3 161.8h0M216.5 130.3h0M194.9 149.6h0M201.9 122.1h0M206.7 206.6h0M180.6 163.4h0M108.8 131.9h0M168.9 133.6h0M182.7 195.2h0M245.9 248.9h0M208.3 195.3h0M281.7 277.1h0M173.5 211.3h0M179.5 180.4h0M220.2 229.7h0M223.7 144.3h0M223.8 180.5h0M165.6 142.7h0M285.2 256.2h0M154.2 157.5h0M126.0 83.1h0M160.6 146.7h0M240.3 198.4h0M154.8 149.6h0M169.5 193.8h0M200.7 153.7h0M182.6 164.8h0M231.2 196.7h0M159.5 153.0h0M200.0 219.7h0M159.4 147.3h0M288.0 217.8h0M181.3 126.1h0M112.8 110.8h0M187.4 127.7h0M201.0 155.8h0M152.2 107.7h0M204.3 173.4h0M138.7 95.1h0M135.6 50.5h0M190.6 176.0h0M194.9 189.2h0M218.6 189.2h0M169.4 147.3h0M117.5 137.7h0M156.2 170.4h0M178.1 164.0h0M188.1 90.1h0M175.0 145.0h0M168.5 124.5h0M170.9 179.7h0M195.6 137.9h0M187.5 136.2h0M144.0 103.6h0M143.5 162.7h0M130.7 174.2h0M170.7 157.4h0M194.4 186.0h0M155.4 142.7h0M131.9 150.8h0M280.9 210.6h0M221.6 118.9h0M206.5 214.4h0M184.7 179.3h0M126.9 131.9h0M141.8 155.1h0M157.6 195.5h0M151.0 132.4h0M289.3 268.4h0M184.0 171.6h0M189.7 195.5h0M126.6 98.9h0M197.0 169.1h0M258.7 227.6h0M190.7 160.4h0M184.5 176.9h0M165.4 155.5h0M194.2 163.2h0M180.0 162.2h0M183.7 165.4h0M122.7 131.5h0M217.3 176.1h0M134.7 126.2h0M184.8 95.1h0M173.7 169.9h0M134.3 115.9h0M164.5 158.9h0M185.6 140.5h0M145.3 125.1h0M142.0 138.2h0M164.4 131.5h0M192.1 145.6h0M162.3 79.8h0M218.3 160.8h0M134.1 92.1h0M257.6 251.3h0M157.7 80.8h0M154.6 138.5h0M248.3 248.5h0M134.0 114.0h0M173.2 154.0h0M205.5 157.5h0M237.1 175.1h0M152.4 129.1h0M194.3 156.8h0M198.8 130.3h0M207.3 241.5h0M121.1 104.7h0M178.1 149.7h0M183.8 187.8h0M174.9 138.8h0M207.9 230.3h0M185.5 175.8h0M221.4 201.6h0M180.0 109.2h0M150.3 123.0h0M201.0 165.5h0M160.8 145.4h0M204.4 137.3h0M115.9 85.1h0M169.3 128.8h0M173.2 131.5h0M251.5 243.8h0M163.5 170.2h0M172.5 151.6h0M191.2 153.0h0M173.5 78.3h0M103.1 81.6h0M203.5 184.3h0M175.3 144.7h0M143.6 133.1h0M185.3 170.4h0M204.7 224.1h0M181.7 165.6h0M277.4 240.3h0M191.2 137.1h0M137.2 94.1h0M155.9 135.0h0M203.6 145.1h0M158.7 180.8h0M122.9 138.2h0M179.1 152.2h0M135.7 120.6h0M235.4 203.5h0M260.9 224.2h0M203.1 191.0h0M248.2 187.8h0M209.1 143.8h0M127.0 158.3h0M148.8 77.2h0M224.5 175.4h0M126.5 99.0h0M154.5 142.5h0M170.7 155.5h0M199.4 192.4h0M295.7 207.0h0M181.5 122.9h0M100.0 84.6h0M143.7 127.0h0M146.9 91.5h0M191.4 133.8h0M163.1 157.7h0M119.0 81.0h0M296.6 290.9h0M246.3 251.3h0M231.5 185.9h0M284.2 236.0h0M234.0 222.5h0M161.4 124.5h0M182.3 149.1h0M136.5 87.0h0M187.7 142.8h0M112.9 116.1h0M158.9 136.2h0M214.6 161.3h0M269.7 228.1h0M160.6 104.9h0M191.3 218.9h0M189.6 173.7h0M195.8 188.6h0M169.7 165.3h0M91.6 89.6h0M263.9 256.0h0M174.6 157.1h0M192.7 130.6h0M106.1 91.0h0M192.8 172.7h0M139.5 99.4h0M218.2 192.0h0M212.4 188.6h0M208.0 200.8h0M108.3 108.0h0M183.2 178.3h0M231.4 196.2h0M230.9 207.2h0M119.5 58.8h0M160.9 166.5h0M179.1 48.8h0M225.8 174.8h0M107.0 113.1h0M193.9 150.4h0M193.2 126.3h0M272.6 252.1h0M141.6 52.5h0M281.3 237.3h0M145.0 80.0h0M185.3 71.2h0M179.1 166.5h0M108.6 70.8h0M207.2 174.2h0M142.6 82.4h0M199.9 185.6h0M224.6 163.2h0M137.5 102.2h0M161.1 74.8h0M152.7 93.4h0M268.2 226.9h0M216.3 220.1h0M111.9 86.8h0M145.2 138.1h0M157.4 61.1h0M172.3 154.5h0M150.0 126.4h0M172.5 188.2h0M145.5 142.5h0M231.7 235.3h0M229.7 241.4h0M136.0 49.8h0M135.2 145.9h0M202.6 151.1h0M174.0 177.5h0M181.7 224.1h0M179.9 156.6h0M132.2 93.3h0M152.3 95.0h0M165.4 171.2h0M217.5 195.5h0M218.5 167.0h0M171.8 110.2h0M205.3 168.1h0M213.5 146.4h0M113.9 144.7h0M160.8 169.3h0M147.1 131.5h0M88.5 65.6h0M232.7 179.6h0M175.2 119.2h0M252.2 234.1h0M108.5 45.4h0M153.7 140.1h0M292.4 209.9h0M94.6 98.2h0M220.9 220.5h0M132.0 60.1h0M160.3 155.3h0M212.5 197.9h0M187.9 112.7h0M121.2 112.5h0M154.5 154.7h0M141.4 148.4h0M209.5 207.9h0M289.4 202.3h0M168.7 128.7h0M195.4 218.5h0M129.8 121.1h0M192.4 118.2h0M162.1 124.5h0M190.5 162.7h0M112.8 70.1h0M141.1 122.9h0M243.5 219.2h0M161.4 143.6h0M218.2 200.6h0M172.1 135.6h0M167.4 144.8h0M192.3 128.7h0M286.6 225.0h0M208.7 137.1h0M200.8 40.9h0M124.6 107.6h0M186.9 158.2h0M279.1 290.2h0M157.8 179.9h0M200.6 215.6h0M168.6 148.9h0M112.4 73.8h0M214.3 208.6h0M128.0 63.1h0M224.4 232.8h0M184.6 151.7h0M162.3 139.0h0M223.1 176.2h0M162.0 116.4h0M250.3 240.0h0M139.1 85.3h0M162.0 129.1h0M200.2 128.5h0M209.7 233.2h0M223.8 177.0h0M157.9 78.9h0M201.2 187.9h0M165.7 146.6h0M198.0 194.8h0M114.6 116.6h0M142.2 62.6h0M147.1 202.4h0M190.7 188.2h0M211.3 240.7h0M164.5 151.4h0M142.3 101.2h0M170.7 142.1h0M160.7 122.3h0M215.0 188.4h0M161.3 149.1h0M220.4 240.1h0M182.1 146.4h0M248.6 193.0h0M148.1 119.3h0M205.9 253.3h0M103.8 146.2h0M181.1 213.8h0M192.0 122.8h0M288.3 220.0h0M135.5 142.4h0M190.3 201.0h0M138.5 147.3h0M219.3 205.4h0M149.8 88.6h0M160.7 83.1h0M277.1 209.9h0M236.1 180.4h0M138.2 55.4h0M291.6 214.9h0M138.6 106.8h0M132.5 125.2h0M159.2 147.2h0M132.8 91.5h0M184.0 136.3h0M213.0 227.3h0M186.6 129.8h0M123.3 140.6h0M133.4 97.6h0M221.7 220.9h0M221.0 149.2h0M145.6 130.3h0M220.9 190.9h0M142.2 53.7h0M154.1 112.0h0M176.1 186.8h0M126.5 148.6h0M222.9 198.8h0M252.1 191.1h0M159.1 107.8h0M180.5 129.9h0M168.9 160.5h0M205.8 199.8h0M142.3 91.0h0M184.5 168.9h0M134.9 149.6h0M194.1 145.5h0M169.5 147.0h0M193.0 197.3h0M182.9 183.8h0M167.5 133.6h0M152.9 170.4h0M217.7 198.1h0M209.3 198.7h0M99.4 114.4h0M204.1 139.1h0M170.1 175.8h0M201.6 164.3h0M172.2 158.6h0M163.0 153.3h0M161.4 113.8h0M244.8 237.8h0M217.8 182.4h0M184.5 129.6h0M235.3 245.8h0M171.5 152.3h0M183.1 143.7h0M127.4 156.7h0M131.1 117.4h0M229.3 215.9h0M164.2 191.8h0M219.8 193.4h0M190.1 182.6h0M208.4 154.9h0M151.5 138.8h0M259.9 240.3h0M136.9 122.2h0M180.9 156.1h0M86.3 106.3h0M258.4 231.0h0M163.8 215.6h0M112.0 127.7h0M177.8 142.5h0M156.0 138.9h0M197.3 201.5h0M234.5 233.3h0M131.0 110.9h0M98.5 73.3h0M139.9 168.2h0M149.8 79.9h0M172.6 129.2h0M247.5 218.4h0M163.1 150.3h0M158.0 145.7h0M190.2 160.5h0M144.9 117.9h0M297.4 203.9h0M134.8 52.7h0M187.2 92.2h0M172.6 135.7h0M186.3 170.5h0M100.0 21.3h0M168.2 155.9h0M267.1 219.1h0M161.0 133.2h0M179.1 134.6h0M260.2 198.3h0M139.3 101.6h0M206.7 176.6h0M198.9 146.1h0M192.7 140.1h0M138.2 180.2h0M151.1 110.2h0M176.6 180.7h0M194.5 162.1h0M194.4 173.2h0M235.1 176.8h0M152.2 101.9h0M152.2 120.3h0M157.7 140.2h0M211.1 170.2h0M250.0 230.7h0M281.5 204.0h0M149.3 93.2h0M209.0 141.4h0M155.9 107.5h0M128.1 122.3h0M181.2 117.7h0M146.0 133.9h0M126.2 78.9h0M137.6 106.5h0M219.5 176.5h0M209.1 135.8h0M153.9 173.9h0M158.6 81.8h0M141.2 93.5h0M173.7 111.8h0M121.1 48.3h0M264.5 253.9h0M174.9 152.8h0M140.0 123.9h0M137.3 133.1h0M152.1 163.1h0M178.2 118.9h0M281.1 268.7h0M144.4 112.9h0M188.5 161.7h0M157.9 203.5h0M163.4 155.4h0M241.1 193.5h0M246.1 175.9h0M149.6 119.9h0M113.7 97.3h0M112.9 134.7h0M168.4 117.7h0M140.4 71.9h0M144.6 156.3h0M154.8 76.6h0M216.9 242.3h0M157.3 128.4h0M194.6 116.1h0M207.0 188.4h0M137.8 99.3h0M252.2 126.5h0M271.3 264.9h0M129.6 102.8h0M169.6 139.2h0M200.4 185.3h0M190.3 223.0h0M146.1 67.6h0M203.9 203.3h0M139.5 100.8h0M188.6 161.0h0M185.1 162.6h0M200.1 139.9h0M158.8 190.4h0M246.6 156.5h0M171.0 156.0h0M207.8 159.5h0M214.8 142.1h0M259.4 201.7h0M128.7 121.1h0M237.9 197.6h0M107.9 113.9h0M91.1 60.5h0M174.8 156.9h0M192.3 183.0h0M250.6 238.6h0M136.4 128.7h0M122.9 136.6h0M244.9 242.3h0M139.2 126.6h0M189.4 140.1h0M142.7 124.5h0M176.9 102.8h0M182.9 96.6h0M193.3 157.0h0M211.5 228.9h0M204.5 159.6h0M277.7 298.0h0M162.0 64.9h0M154.2 93.7h0M188.3 128.3h0M183.8 99.2h0M221.4 190.1h0M275.9 253.4h0M147.5 85.0h0M178.5 136.7h0M138.5 147.5h0M159.1 75.6h0M266.7 230.2h0M225.2 218.4h0M162.3 143.3h0M167.3 205.4h0M246.9 237.7h0M161.8 101.0h0M93.0 83.9h0M161.0 115.4h0M169.0 176.6h0M127.7 112.0h0M182.8 105.7h0M144.6 117.6h0M178.5 225.0h0M239.1 202.3h0M228.9 164.0h0M234.1 163.7h0M275.7 216.6h0M166.5 154.9h0M164.5 66.7h0M163.5 97.6h0M148.7 139.1h0M198.0 117.0h0M244.7 188.9h0M199.0 125.7h0M155.1 161.5h0M151.9 156.4h0M167.2 135.9h0M142.2 141.0h0M193.2 104.8h0M258.3 207.6h0M140.8 166.7h0M196.0 140.0h0M148.3 159.5h0M195.0 165.4h0M224.8 193.7h0M128.6 96.4h0M122.7 77.9h0M152.9 161.9h0M112.5 111.9h0M136.9 97.4h0M194.3 203.6h0M175.2 146.2h0M129.0 111.8h0M205.1 177.9h0M136.8 59.1h0M190.5 134.8h0M154.2 56.2h0M148.5 206.6h0M116.1 109.7h0M202.5 110.0h0M171.9 83.8h0M241.2 234.7h0M216.2 148.8h0M177.8 142.2h0M181.9 187.3h0M170.3 173.5h0M134.8 115.7h0M206.1 153.5h0M231.7 232.8h0M131.7 76.2h0M113.3 54.4h0M203.7 184.5h0M223.0 189.9h0M144.1 56.9h0M163.9 132.7h0M223.0 225.6h0M133.6 91.4h0M156.4 150.4h0M191.6 148.3h0M247.4 241.8h0M181.1 197.4h0M192.0 156.5h0M175.9 132.5h0M173.3 155.0h0M195.0 219.0h0M182.2 93.9h0M137.6 108.2h0M164.2 114.5h0M213.4 180.4h0M134.9 151.3h0M123.1 64.6h0M145.0 108.4h0M151.2 121.7h0M210.1 175.6h0M155.6 93.4h0M164.4 102.6h0M140.0 68.9h0M175.4 131.0h0M261.3 242.0h0M213.3 166.6h0M197.9 201.0h0M206.9 206.8h0M116.0 94.3h0M189.7 193.5h0M181.9 196.7h0M98.0 72.6h0M168.6 113.2h0M219.4 171.0h0M217.6 214.2h0M132.1 219.2h0M144.7 90.3h0M201.4 174.4h0M177.5 141.9h0M256.1 239.2h0M138.0 97.9h0M169.2 142.3h0M138.2 98.4h0M161.5 167.3h0M246.7 96.9h0M182.0 149.6h0M160.2 156.9h0M251.3 183.0h0M157.1 39.8h0M226.4 207.4h0M179.9 126.0h0M187.6 188.1h0M141.3 115.1h0M134.4 129.2h0M239.0 179.2h0M161.5 79.8h0M145.0 61.4h0M85.5 118.4h0M177.9 137.0h0M218.1 176.8h0M127.9 64.9h0M171.7 138.5h0M235.4 183.8h0M162.0 134.6h0M123.6 118.6h0M210.4 165.2h0M179.7 156.4h0M195.3 247.8h0M288.9 211.5h0M119.8 70.4h0M222.1 173.8h0M109.3 134.3h0M194.4 138.4h0M114.1 118.9h0M204.7 173.2h0M239.0 233.4h0M146.8 141.7h0M134.5 134.1h0M199.5 118.4h0M129.2 30.5h0M256.4 222.6h0M230.8 191.8h0M186.3 133.5h0M185.3 153.9h0M136.5 96.1h0M168.9 128.5h0M196.2 193.9h0M175.5 146.7h0M183.9 150.9h0M208.3 179.3h0M248.8 183.9h0M193.9 137.6h0M138.3 48.7h0M211.0 228.2h0M208.1 168.5h0M161.8 147.3h0M204.8 205.3h0M215.0 220.8h0M272.3 217.5h0M119.5 105.6h0M166.7 145.3h0M204.0 155.2h0M185.2 175.0h0M166.5 123.5h0M198.2 233.6h0M125.6 119.7h0M131.0 105.3h0M138.3 124.0h0M269.7 264.4h0M199.3 187.0h0M160.0 142.9h0M170.3 218.6h0M143.1 99.1h0M180.2 187.0h0M175.7 68.8h0M163.5 181.9h0M120.0 111.3h0M105.1 92.7h0M105.9 61.8h0M200.5 179.3h0M169.6 57.6h0M189.2 89.7h0M227.9 216.2h0M220.9 210.9h0M190.9 211.1h0M165.6 171.9h0M263.0 231.0h0M210.9 217.0h0M160.6 169.5h0M188.8 162.5h0M210.6 178.1h0M161.6 101.5h0M238.9 201.8h0M136.1 138.7h0M204.1 175.5h0M222.1 219.7h0M147.1 127.4h0M133.3 130.8h0M133.8 115.6h0M177.8 98.8h0M168.5 164.4h0M139.6 36.0h0M189.5 173.9h0M123.7 93.5h0M201.9 169.9h0M177.5 203.4h0M203.0 195.9h0M131.5 84.3h0M296.1 274.6h0M135.2 95.4h0M183.5 166.8h0M198.9 238.4h0M162.7 137.0h0M167.7 157.0h0M165.1 139.8h0M173.9 192.2h0M247.3 233.8h0M165.8 159.5h0M103.8 48.5h0M245.9 229.4h0M197.1 186.0h0M108.2 105.9h0M208.3 182.9h0M164.3 120.9h0M187.1 203.8h0M221.5 239.5h0M225.5 186.4h0M198.6 184.3h0M204.0 126.4h0M174.0 138.4h0M217.2 220.8h0M168.0 117.0h0M113.9 71.2h0M256.8 235.9h0M127.0 149.0h0M150.0 87.9h0M235.0 233.2h0M144.9 89.3h0M224.0 185.9h0M175.4 48.0h0M185.1 116.2h0M183.8 163.3h0M171.0 159.6h0M150.2 104.5h0M151.0 156.4h0M200.6 177.7h0M151.5 102.1h0M192.3 165.0h0M213.6 161.7h0M189.2 156.4h0M215.5 153.1h0M278.6 204.6h0M169.6 143.4h0M147.8 168.5h0M176.9 174.7h0M147.5 138.2h0M213.3 239.5h0M158.2 110.2h0M138.7 127.6h0M143.9 129.7h0M273.3 234.0h0M134.0 75.2h0M143.7 103.0h0M164.8 132.8h0M209.1 228.0h0M206.9 164.2h0M183.9 190.6h0M282.3 256.6h0M235.6 250.6h0M139.7 97.8h0M243.5 211.3h0M155.0 74.3h0M166.4 172.6h0M158.7 130.8h0M162.1 110.2h0M91.3 51.9h0M162.3 171.8h0M140.1 146.5h0M177.8 134.5h0M244.6 190.4h0M194.9 123.3h0M155.0 111.5h0M197.1 172.5h0M181.9 196.6h0M160.2 168.8h0M164.4 118.8h0M164.0 137.1h0M185.1 184.3h0M140.0 161.7h0M189.3 101.4h0M133.4 92.8h0M162.5 150.2h0M141.0 68.9h0M194.6 176.0h0M256.0 260.8h0M209.0 167.4h0M132.8 211.3h0M124.5 63.2h0M256.8 221.8h0M199.6 130.6h0M153.6 123.1h0M118.4 120.7h0M126.0 94.9h0M177.6 128.0h0M166.4 129.9h0M171.3 115.2h0M182.6 142.1h0M177.8 148.9h0M176.0 133.2h0M219.6 185.2h0M174.7 181.3h0M202.2 159.0h0M197.0 202.1h0M157.5 78.3h0M195.0 257.5h0M139.0 128.5h0M222.9 189.4h0M226.8 208.0h0M190.7 192.1h0M242.4 175.2h0M153.0 74.8h0M170.3 83.2h0M183.2 126.5h0M201.8 149.8h0M181.1 140.7h0M262.4 286.5h0M126.3 69.8h0M154.7 114.8h0M164.8 79.5h0M275.6 208.8h0M146.1 161.0h0M194.0 146.5h0M230.2 206.2h0M219.4 186.4h0M233.2 216.3h0M180.3 178.3h0M240.3 207.0h0M122.8 117.9h0M210.9 196.8h0M167.0 125.6h0M140.9 173.2h0M227.2 89.6h0M242.7 294.9h0M198.6 166.8h0M135.9 74.5h0M283.2 208.5h0M162.4 69.9h0M175.6 205.3h0M154.6 122.8h0M161.8 112.2h0M168.8 87.3h0M163.7 174.1h0M282.7 242.5h0M190.0 139.2h0M272.6 259.7h0M213.0 187.0h0M185.4 166.9h0M181.0 183.7h0M122.9 99.9h0M199.3 187.4h0M166.9 190.5h0M181.5 183.9h0M198.1 165.7h0M192.8 215.0h0M150.2 136.2h0M223.4 163.3h0M162.6 150.0h0M116.4 75.5h0M187.3 176.5h0M159.7 140.9h0M152.6 98.2h0M199.9 214.8h0M223.0 182.0h0M156.5 114.5h0M152.9 110.5h0M131.7 80.4h0M195.7 126.2h0M215.5 180.2h0M182.6 140.4h0M129.1 100.7h0M190.8 129.3h0M234.9 155.2h0M186.6 178.4h0M165.9 175.2h0M223.2 168.8h0M167.9 134.5h0M234.6 219.6h0M167.0 128.5h0M172.4 75.2h0M163.8 68.8h0M201.6 58.3h0M275.4 243.0h0M204.8 143.1h0M269.6 238.0h0M222.2 221.1h0M159.1 104.0h0M190.6 179.2h0M186.4 159.6h0M246.6 182.2h0M140.5 148.9h0M229.7 196.7h0M147.7 135.9h0M165.3 83.2h0M209.2 240.8h0M158.4 206.1h0M145.8 160.5h0M101.3 100.0h0M182.3 181.1h0M170.1 190.2h0M174.1 138.3h0M228.7 245.0h0M162.7 126.7h0M107.2 85.1h0M240.3 194.7h0M171.8 153.7h0M211.4 228.4h0M96.6 30.1h0M195.1 245.9h0M168.8 130.4h0M167.5 169.7h0M173.2 153.9h0M206.8 190.1h0M171.4 120.2h0M176.3 161.0h0M184.4 177.9h0M122.1 104.2h0M226.0 187.5h0M198.1 209.8h0M178.1 230.8h0M216.3 139.1h0M163.6 165.7h0M140.4 121.7h0M147.4 82.1h0M162.6 127.2h0M135.8 84.1h0M184.7 161.0h0M212.9 216.6h0M231.0 244.7h0M184.7 84.5h0M255.6 207.1h0M136.0 95.3h0M173.1 158.4h0M219.5 214.8h0M242.6 251.0h0M210.1 126.8h0M190.3 213.2h0M204.4 148.2h0M160.7 137.6h0M81.4 126.7h0M182.7 164.1h0M209.6 162.5h0M181.5 192.4h0M194.0 171.0h0M230.4 209.0h0M173.9 163.4h0M143.1 90.6h0M153.5 188.7h0M223.1 195.9h0M80.2 115.3h0M127.8 23.3h0M87.4 93.4h0M192.7 149.8h0M104.1 130.1h0M172.8 182.9h0M219.5 166.7h0M161.1 87.8h0M190.1 210.9h0M237.8 181.6h0M150.4 152.6h0M136.8 73.3h0M236.3 230.8h0M135.5 110.0h0M159.7 85.3h0M192.2 171.0h0M299.1 225.8h0M253.3 226.5h0M144.3 48.6h0M211.9 129.4h0M137.9 82.5h0M167.7 152.3h0M165.5 98.5h0M139.0 54.7h0M188.7 164.6h0M155.0 88.9h0M100.7 64.6h0M148.0 162.8h0M213.0 158.7h0M148.1 74.6h0M244.6 233.5h0M165.4 195.8h0M149.1 45.0h0M167.0 143.9h0M187.2 177.3h0M191.9 186.7h0M244.9 218.9h0M174.4 96.4h0M151.8 101.8h0M205.5 186.5h0M105.5 50.0h0M276.9 245.3h0M172.1 130.4h0M123.5 137.8h0M225.9 168.0h0M135.4 130.3h0M143.8 124.7h0M124.3 114.3h0M123.3 73.2h0M227.4 169.5h0M267.6 227.0h0M234.0 220.2h0M195.2 223.4h0M295.0 255.0h0M161.7 80.1h0M167.7 127.3h0M203.7 233.4h0M150.7 104.5h0M184.8 134.6h0M192.5 159.3h0M185.8 136.2h0M172.5 135.2h0M236.6 190.4h0M257.1 241.7h0M121.8 48.6h0M197.9 154.6h0M190.1 153.3h0M153.4 161.3h0M106.1 136.5h0M209.0 160.1h0M209.5 106.5h0M150.2 59.0h0M177.1 128.1h0M148.9 167.8h0M202.9 150.2h0M204.9 154.7h0M169.9 148.3h0M232.2 137.2h0M174.2 194.3h0M206.1 159.4h0M155.7 138.6h0M154.8 76.1h0M168.3 61.2h0M272.1 251.9h0M162.2 188.8h0M151.2 40.5h0M170.0 184.4h0M191.0 114.8h0M113.3 88.4h0M102.3 91.3h0M162.7 140.6h0M191.4 141.0h0M258.9 230.0h0M137.9 93.0h0M232.8 161.0h0M135.8 65.3h0M181.8 127.8h0M238.4 178.0h0M225.0 220.5h0M151.5 152.3h0M226.7 226.3h0M219.0 150.0h0M173.2 109.2h0M155.9 93.9h0M224.3 161.9h0M254.2 191.9h0M188.9 173.1h0M258.7 258.7h0M257.8 225.2h0M203.3 170.3h0M138.6 145.0h0M135.5 113.6h0M211.7 214.4h0M120.3 110.8h0M117.9 95.4h0M157.8 123.2h0M252.4 239.7h0M169.6 141.3h0M83.0 64.7h0M155.3 193.1h0M147.1 57.4h0M91.1 122.4h0M158.4 170.4h0M170.4 151.2h0M122.2 61.4h0M169.5 133.0h0M166.1 173.1h0M129.6 107.0h0M285.4 228.3h0M127.9 143.0h0M136.0 84.7h0M238.4 173.6h0" stroke="#000" stroke-width="2.1" stroke-linecap="square" fill="none"/></g>
<clipPath id="clA"><rect x="53.0" y="0.95" width="248.0" height="308.55"/></clipPath>
<g clip-path="url(#clA)" stroke="#0000ff" stroke-width="2.1" stroke-dasharray="3.7 3.66"><line x1="144.25" y1="4.83" x2="29.95" y2="90.73"/><line x1="174.30" y1="40.80" x2="60.00" y2="126.70"/><line x1="204.35" y1="76.77" x2="90.05" y2="162.67"/><line x1="234.40" y1="112.74" x2="120.10" y2="198.64"/><line x1="264.45" y1="148.71" x2="150.15" y2="234.61"/><line x1="294.50" y1="184.68" x2="180.20" y2="270.58"/></g>
<line x1="71.74" y1="29.81" x2="283.6" y2="282" stroke="#ff0000" stroke-width="4.1" stroke-dasharray="3.9 3.55"/>
<rect x="53.0" y="0.95" width="248.0" height="308.55" fill="none" stroke="#000" stroke-width="1.8"/>
<line x1="61.62" y1="309.50" x2="61.62" y2="306.80" stroke="#000" stroke-width="1.6"/>
<line x1="61.62" y1="0.95" x2="61.62" y2="3.65" stroke="#000" stroke-width="1.6"/>
<line x1="71.10" y1="309.50" x2="71.10" y2="304.50" stroke="#000" stroke-width="1.6"/>
<line x1="71.10" y1="0.95" x2="71.10" y2="5.95" stroke="#000" stroke-width="1.6"/>
<line x1="80.57" y1="309.50" x2="80.57" y2="306.80" stroke="#000" stroke-width="1.6"/>
<line x1="80.57" y1="0.95" x2="80.57" y2="3.65" stroke="#000" stroke-width="1.6"/>
<line x1="90.05" y1="309.50" x2="90.05" y2="306.80" stroke="#000" stroke-width="1.6"/>
<line x1="90.05" y1="0.95" x2="90.05" y2="3.65" stroke="#000" stroke-width="1.6"/>
<line x1="99.53" y1="309.50" x2="99.53" y2="306.80" stroke="#000" stroke-width="1.6"/>
<line x1="99.53" y1="0.95" x2="99.53" y2="3.65" stroke="#000" stroke-width="1.6"/>
<line x1="109.00" y1="309.50" x2="109.00" y2="304.50" stroke="#000" stroke-width="1.6"/>
<line x1="109.00" y1="0.95" x2="109.00" y2="5.95" stroke="#000" stroke-width="1.6"/>
<line x1="118.47" y1="309.50" x2="118.47" y2="306.80" stroke="#000" stroke-width="1.6"/>
<line x1="118.47" y1="0.95" x2="118.47" y2="3.65" stroke="#000" stroke-width="1.6"/>
<line x1="127.95" y1="309.50" x2="127.95" y2="306.80" stroke="#000" stroke-width="1.6"/>
<line x1="127.95" y1="0.95" x2="127.95" y2="3.65" stroke="#000" stroke-width="1.6"/>
<line x1="137.43" y1="309.50" x2="137.43" y2="306.80" stroke="#000" stroke-width="1.6"/>
<line x1="137.43" y1="0.95" x2="137.43" y2="3.65" stroke="#000" stroke-width="1.6"/>
<line x1="146.90" y1="309.50" x2="146.90" y2="304.50" stroke="#000" stroke-width="1.6"/>
<line x1="146.90" y1="0.95" x2="146.90" y2="5.95" stroke="#000" stroke-width="1.6"/>
<line x1="156.38" y1="309.50" x2="156.38" y2="306.80" stroke="#000" stroke-width="1.6"/>
<line x1="156.38" y1="0.95" x2="156.38" y2="3.65" stroke="#000" stroke-width="1.6"/>
<line x1="165.85" y1="309.50" x2="165.85" y2="306.80" stroke="#000" stroke-width="1.6"/>
<line x1="165.85" y1="0.95" x2="165.85" y2="3.65" stroke="#000" stroke-width="1.6"/>
<line x1="175.32" y1="309.50" x2="175.32" y2="306.80" stroke="#000" stroke-width="1.6"/>
<line x1="175.32" y1="0.95" x2="175.32" y2="3.65" stroke="#000" stroke-width="1.6"/>
<line x1="184.80" y1="309.50" x2="184.80" y2="304.50" stroke="#000" stroke-width="1.6"/>
<line x1="184.80" y1="0.95" x2="184.80" y2="5.95" stroke="#000" stroke-width="1.6"/>
<line x1="194.28" y1="309.50" x2="194.28" y2="306.80" stroke="#000" stroke-width="1.6"/>
<line x1="194.28" y1="0.95" x2="194.28" y2="3.65" stroke="#000" stroke-width="1.6"/>
<line x1="203.75" y1="309.50" x2="203.75" y2="306.80" stroke="#000" stroke-width="1.6"/>
<line x1="203.75" y1="0.95" x2="203.75" y2="3.65" stroke="#000" stroke-width="1.6"/>
<line x1="213.23" y1="309.50" x2="213.23" y2="306.80" stroke="#000" stroke-width="1.6"/>
<line x1="213.23" y1="0.95" x2="213.23" y2="3.65" stroke="#000" stroke-width="1.6"/>
<line x1="222.70" y1="309.50" x2="222.70" y2="304.50" stroke="#000" stroke-width="1.6"/>
<line x1="222.70" y1="0.95" x2="222.70" y2="5.95" stroke="#000" stroke-width="1.6"/>
<line x1="232.18" y1="309.50" x2="232.18" y2="306.80" stroke="#000" stroke-width="1.6"/>
<line x1="232.18" y1="0.95" x2="232.18" y2="3.65" stroke="#000" stroke-width="1.6"/>
<line x1="241.65" y1="309.50" x2="241.65" y2="306.80" stroke="#000" stroke-width="1.6"/>
<line x1="241.65" y1="0.95" x2="241.65" y2="3.65" stroke="#000" stroke-width="1.6"/>
<line x1="251.12" y1="309.50" x2="251.12" y2="306.80" stroke="#000" stroke-width="1.6"/>
<line x1="251.12" y1="0.95" x2="251.12" y2="3.65" stroke="#000" stroke-width="1.6"/>
<line x1="260.60" y1="309.50" x2="260.60" y2="304.50" stroke="#000" stroke-width="1.6"/>
<line x1="260.60" y1="0.95" x2="260.60" y2="5.95" stroke="#000" stroke-width="1.6"/>
<line x1="270.08" y1="309.50" x2="270.08" y2="306.80" stroke="#000" stroke-width="1.6"/>
<line x1="270.08" y1="0.95" x2="270.08" y2="3.65" stroke="#000" stroke-width="1.6"/>
<line x1="279.55" y1="309.50" x2="279.55" y2="306.80" stroke="#000" stroke-width="1.6"/>
<line x1="279.55" y1="0.95" x2="279.55" y2="3.65" stroke="#000" stroke-width="1.6"/>
<line x1="289.02" y1="309.50" x2="289.02" y2="306.80" stroke="#000" stroke-width="1.6"/>
<line x1="289.02" y1="0.95" x2="289.02" y2="3.65" stroke="#000" stroke-width="1.6"/>
<line x1="298.50" y1="309.50" x2="298.50" y2="304.50" stroke="#000" stroke-width="1.6"/>
<line x1="298.50" y1="0.95" x2="298.50" y2="5.95" stroke="#000" stroke-width="1.6"/>
<line x1="53.00" y1="308.94" x2="58.00" y2="308.94" stroke="#000" stroke-width="1.6"/>
<line x1="301.00" y1="308.94" x2="296.00" y2="308.94" stroke="#000" stroke-width="1.6"/>
<line x1="53.00" y1="299.97" x2="55.70" y2="299.97" stroke="#000" stroke-width="1.6"/>
<line x1="301.00" y1="299.97" x2="298.30" y2="299.97" stroke="#000" stroke-width="1.6"/>
<line x1="53.00" y1="291.00" x2="55.70" y2="291.00" stroke="#000" stroke-width="1.6"/>
<line x1="301.00" y1="291.00" x2="298.30" y2="291.00" stroke="#000" stroke-width="1.6"/>
<line x1="53.00" y1="282.03" x2="55.70" y2="282.03" stroke="#000" stroke-width="1.6"/>
<line x1="301.00" y1="282.03" x2="298.30" y2="282.03" stroke="#000" stroke-width="1.6"/>
<line x1="53.00" y1="273.06" x2="58.00" y2="273.06" stroke="#000" stroke-width="1.6"/>
<line x1="301.00" y1="273.06" x2="296.00" y2="273.06" stroke="#000" stroke-width="1.6"/>
<line x1="53.00" y1="264.09" x2="55.70" y2="264.09" stroke="#000" stroke-width="1.6"/>
<line x1="301.00" y1="264.09" x2="298.30" y2="264.09" stroke="#000" stroke-width="1.6"/>
<line x1="53.00" y1="255.12" x2="55.70" y2="255.12" stroke="#000" stroke-width="1.6"/>
<line x1="301.00" y1="255.12" x2="298.30" y2="255.12" stroke="#000" stroke-width="1.6"/>
<line x1="53.00" y1="246.15" x2="55.70" y2="246.15" stroke="#000" stroke-width="1.6"/>
<line x1="301.00" y1="246.15" x2="298.30" y2="246.15" stroke="#000" stroke-width="1.6"/>
<line x1="53.00" y1="237.18" x2="58.00" y2="237.18" stroke="#000" stroke-width="1.6"/>
<line x1="301.00" y1="237.18" x2="296.00" y2="237.18" stroke="#000" stroke-width="1.6"/>
<line x1="53.00" y1="228.21" x2="55.70" y2="228.21" stroke="#000" stroke-width="1.6"/>
<line x1="301.00" y1="228.21" x2="298.30" y2="228.21" stroke="#000" stroke-width="1.6"/>
<line x1="53.00" y1="219.24" x2="55.70" y2="219.24" stroke="#000" stroke-width="1.6"/>
<line x1="301.00" y1="219.24" x2="298.30" y2="219.24" stroke="#000" stroke-width="1.6"/>
<line x1="53.00" y1="210.27" x2="55.70" y2="210.27" stroke="#000" stroke-width="1.6"/>
<line x1="301.00" y1="210.27" x2="298.30" y2="210.27" stroke="#000" stroke-width="1.6"/>
<line x1="53.00" y1="201.30" x2="58.00" y2="201.30" stroke="#000" stroke-width="1.6"/>
<line x1="301.00" y1="201.30" x2="296.00" y2="201.30" stroke="#000" stroke-width="1.6"/>
<line x1="53.00" y1="192.33" x2="55.70" y2="192.33" stroke="#000" stroke-width="1.6"/>
<line x1="301.00" y1="192.33" x2="298.30" y2="192.33" stroke="#000" stroke-width="1.6"/>
<line x1="53.00" y1="183.36" x2="55.70" y2="183.36" stroke="#000" stroke-width="1.6"/>
<line x1="301.00" y1="183.36" x2="298.30" y2="183.36" stroke="#000" stroke-width="1.6"/>
<line x1="53.00" y1="174.39" x2="55.70" y2="174.39" stroke="#000" stroke-width="1.6"/>
<line x1="301.00" y1="174.39" x2="298.30" y2="174.39" stroke="#000" stroke-width="1.6"/>
<line x1="53.00" y1="165.42" x2="58.00" y2="165.42" stroke="#000" stroke-width="1.6"/>
<line x1="301.00" y1="165.42" x2="296.00" y2="165.42" stroke="#000" stroke-width="1.6"/>
<line x1="53.00" y1="156.45" x2="55.70" y2="156.45" stroke="#000" stroke-width="1.6"/>
<line x1="301.00" y1="156.45" x2="298.30" y2="156.45" stroke="#000" stroke-width="1.6"/>
<line x1="53.00" y1="147.48" x2="55.70" y2="147.48" stroke="#000" stroke-width="1.6"/>
<line x1="301.00" y1="147.48" x2="298.30" y2="147.48" stroke="#000" stroke-width="1.6"/>
<line x1="53.00" y1="138.51" x2="55.70" y2="138.51" stroke="#000" stroke-width="1.6"/>
<line x1="301.00" y1="138.51" x2="298.30" y2="138.51" stroke="#000" stroke-width="1.6"/>
<line x1="53.00" y1="129.54" x2="58.00" y2="129.54" stroke="#000" stroke-width="1.6"/>
<line x1="301.00" y1="129.54" x2="296.00" y2="129.54" stroke="#000" stroke-width="1.6"/>
<line x1="53.00" y1="120.57" x2="55.70" y2="120.57" stroke="#000" stroke-width="1.6"/>
<line x1="301.00" y1="120.57" x2="298.30" y2="120.57" stroke="#000" stroke-width="1.6"/>
<line x1="53.00" y1="111.60" x2="55.70" y2="111.60" stroke="#000" stroke-width="1.6"/>
<line x1="301.00" y1="111.60" x2="298.30" y2="111.60" stroke="#000" stroke-width="1.6"/>
<line x1="53.00" y1="102.63" x2="55.70" y2="102.63" stroke="#000" stroke-width="1.6"/>
<line x1="301.00" y1="102.63" x2="298.30" y2="102.63" stroke="#000" stroke-width="1.6"/>
<line x1="53.00" y1="93.66" x2="58.00" y2="93.66" stroke="#000" stroke-width="1.6"/>
<line x1="301.00" y1="93.66" x2="296.00" y2="93.66" stroke="#000" stroke-width="1.6"/>
<line x1="53.00" y1="84.69" x2="55.70" y2="84.69" stroke="#000" stroke-width="1.6"/>
<line x1="301.00" y1="84.69" x2="298.30" y2="84.69" stroke="#000" stroke-width="1.6"/>
<line x1="53.00" y1="75.72" x2="55.70" y2="75.72" stroke="#000" stroke-width="1.6"/>
<line x1="301.00" y1="75.72" x2="298.30" y2="75.72" stroke="#000" stroke-width="1.6"/>
<line x1="53.00" y1="66.75" x2="55.70" y2="66.75" stroke="#000" stroke-width="1.6"/>
<line x1="301.00" y1="66.75" x2="298.30" y2="66.75" stroke="#000" stroke-width="1.6"/>
<line x1="53.00" y1="57.78" x2="58.00" y2="57.78" stroke="#000" stroke-width="1.6"/>
<line x1="301.00" y1="57.78" x2="296.00" y2="57.78" stroke="#000" stroke-width="1.6"/>
<line x1="53.00" y1="48.81" x2="55.70" y2="48.81" stroke="#000" stroke-width="1.6"/>
<line x1="301.00" y1="48.81" x2="298.30" y2="48.81" stroke="#000" stroke-width="1.6"/>
<line x1="53.00" y1="39.84" x2="55.70" y2="39.84" stroke="#000" stroke-width="1.6"/>
<line x1="301.00" y1="39.84" x2="298.30" y2="39.84" stroke="#000" stroke-width="1.6"/>
<line x1="53.00" y1="30.87" x2="55.70" y2="30.87" stroke="#000" stroke-width="1.6"/>
<line x1="301.00" y1="30.87" x2="298.30" y2="30.87" stroke="#000" stroke-width="1.6"/>
<line x1="53.00" y1="21.90" x2="58.00" y2="21.90" stroke="#000" stroke-width="1.6"/>
<line x1="301.00" y1="21.90" x2="296.00" y2="21.90" stroke="#000" stroke-width="1.6"/>
<line x1="53.00" y1="12.93" x2="55.70" y2="12.93" stroke="#000" stroke-width="1.6"/>
<line x1="301.00" y1="12.93" x2="298.30" y2="12.93" stroke="#000" stroke-width="1.6"/>
<line x1="53.00" y1="3.96" x2="55.70" y2="3.96" stroke="#000" stroke-width="1.6"/>
<line x1="301.00" y1="3.96" x2="298.30" y2="3.96" stroke="#000" stroke-width="1.6"/>
<text x="47.30" y="28.90" font-size="14" text-anchor="end" fill="#000" stroke="#000" stroke-width="0.3" >2.0</text>
<text x="47.30" y="64.78" font-size="14" text-anchor="end" fill="#000" stroke="#000" stroke-width="0.3" >1.9</text>
<text x="47.30" y="100.66" font-size="14" text-anchor="end" fill="#000" stroke="#000" stroke-width="0.3" >1.8</text>
<text x="47.30" y="136.54" font-size="14" text-anchor="end" fill="#000" stroke="#000" stroke-width="0.3" >1.7</text>
<text x="47.30" y="172.42" font-size="14" text-anchor="end" fill="#000" stroke="#000" stroke-width="0.3" >1.6</text>
<text x="47.30" y="208.30" font-size="14" text-anchor="end" fill="#000" stroke="#000" stroke-width="0.3" >1.5</text>
<text x="47.30" y="244.18" font-size="14" text-anchor="end" fill="#000" stroke="#000" stroke-width="0.3" >1.4</text>
<text x="47.30" y="280.06" font-size="14" text-anchor="end" fill="#000" stroke="#000" stroke-width="0.3" >1.3</text>
<text x="47.30" y="309.80" font-size="14" text-anchor="end" fill="#000" stroke="#000" stroke-width="0.3" >1.2</text>
<text x="71.10" y="336.00" font-size="14" text-anchor="middle" fill="#000" stroke="#000" stroke-width="0.3" >-0.1</text>
<text x="109.00" y="336.00" font-size="14" text-anchor="middle" fill="#000" stroke="#000" stroke-width="0.3" >0.0</text>
<text x="146.90" y="336.00" font-size="14" text-anchor="middle" fill="#000" stroke="#000" stroke-width="0.3" >0.1</text>
<text x="184.80" y="336.00" font-size="14" text-anchor="middle" fill="#000" stroke="#000" stroke-width="0.3" >0.2</text>
<text x="222.70" y="336.00" font-size="14" text-anchor="middle" fill="#000" stroke="#000" stroke-width="0.3" >0.3</text>
<text x="260.60" y="336.00" font-size="14" text-anchor="middle" fill="#000" stroke="#000" stroke-width="0.3" >0.4</text>
<text x="298.50" y="336.00" font-size="14" text-anchor="middle" fill="#000" stroke="#000" stroke-width="0.3" >0.5</text>
<text x="177.00" y="358.20" font-size="14.8" text-anchor="middle" fill="#000" stroke="#000" stroke-width="0.3" >log(P50 [%])</text>
<text transform="translate(10.8,155.9) rotate(-90)" font-size="14.8" text-anchor="middle" stroke="#000" stroke-width="0.3">log(WGPA [deg])</text>
<text x="62.00" y="22.50" font-size="16.5" text-anchor="start" fill="#000" stroke="#000" stroke-width="0.3" >A.</text>
<g id="scB"><path d="M464.5 61.8h0M453.7 34.9h0M458.1 83.8h0M419.4 60.1h0M454.1 57.5h0M455.6 56.9h0M441.0 52.9h0M448.6 48.0h0M444.8 55.7h0M444.3 53.3h0M429.7 40.7h0M434.8 47.6h0M462.8 78.7h0M459.5 66.3h0M459.2 57.0h0M436.3 42.1h0M463.6 63.8h0M463.8 58.8h0M448.5 76.2h0M452.6 88.1h0M462.5 54.3h0M454.1 50.5h0M462.8 57.9h0M423.2 35.4h0M456.6 34.7h0M458.2 45.7h0M434.9 39.3h0M458.2 35.2h0M452.8 58.4h0M447.2 47.7h0M454.3 17.3h0M443.2 54.1h0M460.9 37.7h0M463.7 43.9h0M462.6 56.0h0M450.2 49.7h0M460.0 67.0h0M463.5 42.3h0M426.3 45.1h0M441.1 81.1h0M458.4 73.3h0M427.7 42.9h0M457.5 52.2h0M463.2 65.2h0M436.4 48.7h0M425.3 35.3h0M424.9 58.9h0M462.5 50.7h0M458.4 42.0h0M443.4 58.9h0M446.4 45.8h0M462.8 63.7h0M441.8 25.8h0M457.3 35.9h0M460.1 55.3h0M444.1 38.2h0M451.4 71.4h0M456.7 54.9h0M434.7 58.5h0M448.0 56.7h0M463.6 36.6h0M433.1 91.8h0M457.0 52.5h0M439.3 38.9h0M463.7 73.5h0M452.4 26.4h0M422.7 76.8h0M457.9 37.5h0M454.0 46.6h0M458.5 51.7h0M443.6 51.4h0M451.0 22.4h0M451.4 31.1h0M455.7 42.3h0M459.2 30.8h0M458.2 15.2h0M461.1 72.9h0M441.3 48.2h0M408.0 65.8h0M462.6 68.2h0M450.5 42.7h0M461.0 65.4h0M439.6 40.8h0M461.2 64.9h0M442.2 58.1h0M431.1 63.3h0M452.6 42.7h0M461.1 62.4h0M435.5 64.5h0M456.7 46.9h0M454.2 62.0h0M460.7 56.8h0M449.8 21.7h0M459.7 51.0h0M437.5 41.5h0M447.5 54.7h0M449.3 69.4h0M461.1 62.5h0M442.1 63.6h0M459.1 41.7h0M452.4 42.9h0M447.5 72.5h0M443.7 45.4h0M461.8 50.6h0M460.7 79.5h0M460.5 63.3h0M451.4 55.2h0M453.1 54.2h0M426.9 46.9h0M456.4 77.0h0M446.5 58.8h0M446.2 52.8h0M439.9 82.8h0M445.7 51.1h0M445.0 26.8h0M462.0 58.6h0M452.6 51.2h0M457.4 64.4h0M453.3 69.5h0M457.8 40.9h0M418.8 32.4h0M448.2 83.3h0M457.5 39.0h0M428.7 6.1h0M449.8 52.0h0M463.7 72.6h0M441.1 49.3h0M420.3 89.1h0M440.5 41.0h0M446.1 33.9h0M459.7 55.0h0M442.0 67.9h0M456.9 60.3h0M458.8 57.5h0M456.3 34.4h0M439.4 59.0h0M439.0 45.5h0M456.2 54.9h0M448.6 38.3h0M463.3 52.6h0M461.1 57.8h0M432.7 53.0h0M442.8 55.7h0M446.7 57.2h0M456.8 63.5h0M447.9 70.6h0M447.6 30.9h0M461.9 28.5h0M460.2 59.9h0M439.5 47.1h0M434.6 78.3h0M451.4 45.4h0M447.0 56.1h0M428.1 75.7h0M460.4 42.5h0M422.7 67.5h0M446.2 75.3h0M439.8 32.4h0M455.9 53.1h0M460.3 60.6h0M434.2 34.7h0M462.7 62.2h0M440.0 40.9h0M459.7 45.8h0M457.8 66.5h0M460.5 53.2h0M460.7 33.2h0M434.4 15.6h0M459.6 40.7h0M434.5 55.1h0M459.3 69.9h0M456.1 25.2h0M447.9 43.4h0M457.6 46.3h0M436.4 88.6h0M431.6 77.5h0M462.5 62.8h0M389.4 50.9h0M441.9 41.0h0M463.0 21.8h0M441.1 51.1h0M447.7 72.9h0M444.5 50.1h0M424.8 67.6h0M445.4 56.2h0M446.4 45.1h0M464.3 41.9h0M420.2 70.9h0M448.9 49.9h0M425.3 30.9h0M442.8 43.6h0M444.7 50.0h0M439.8 51.6h0M424.8 56.5h0M445.6 44.5h0M462.7 45.6h0M459.0 68.6h0M463.5 72.5h0M464.2 69.1h0M437.3 79.4h0M449.2 36.6h0M457.3 55.0h0M455.7 33.8h0M460.4 54.2h0M445.2 50.2h0M462.5 78.0h0M451.8 35.8h0M428.3 46.5h0M461.9 78.4h0M438.2 55.3h0M445.8 73.3h0M453.8 53.3h0M462.3 32.4h0M444.1 42.1h0M452.1 61.6h0M448.8 60.1h0M460.8 56.1h0M446.5 46.0h0M454.7 65.3h0M433.6 35.1h0M454.5 46.4h0M449.1 39.0h0M463.5 66.2h0M457.3 42.1h0M463.0 65.4h0M448.9 61.8h0M459.8 52.3h0M462.4 68.0h0M459.2 46.7h0M454.4 65.6h0M444.5 59.6h0M439.9 37.3h0M462.9 65.7h0M444.2 46.5h0M457.4 70.3h0M462.5 55.2h0M432.2 31.1h0M453.1 51.5h0M449.8 58.3h0M462.5 28.8h0M461.0 80.8h0M441.4 52.7h0M396.3 24.5h0M459.7 59.3h0M464.2 69.4h0M459.8 53.1h0M450.6 46.0h0M450.7 71.6h0M458.1 62.0h0M433.6 65.4h0M448.8 28.1h0M438.5 38.3h0M459.7 77.3h0M445.3 40.9h0M457.0 64.4h0M447.6 37.8h0M434.2 46.4h0M455.7 57.4h0M457.5 41.3h0M451.7 56.7h0M461.2 71.7h0M463.3 55.6h0M438.0 41.5h0M460.5 61.9h0M459.8 56.5h0M463.3 42.9h0M461.4 66.2h0M448.6 61.6h0M441.5 65.6h0M462.2 55.9h0M457.8 45.3h0M460.5 62.0h0M441.9 67.9h0M447.7 58.8h0M458.1 53.7h0M464.2 73.5h0M441.1 73.1h0M447.8 67.6h0M457.9 72.6h0M435.9 51.0h0M454.8 23.0h0M460.1 74.8h0M441.5 39.7h0M457.7 47.8h0M437.9 59.6h0M458.1 49.6h0M461.5 39.4h0M447.9 63.8h0M452.6 36.2h0M437.7 41.1h0M459.7 57.7h0M426.9 66.1h0M424.1 50.9h0M447.0 74.8h0M441.6 46.3h0M439.3 57.6h0M459.3 11.4h0M464.4 65.7h0M441.1 59.1h0M441.7 49.0h0M458.2 52.1h0M462.4 42.1h0M447.2 43.0h0M464.3 48.8h0M441.7 42.1h0M459.0 56.8h0M462.5 58.7h0M442.4 39.9h0M462.6 52.8h0M457.7 78.5h0M448.1 81.0h0M435.2 64.6h0M459.6 45.8h0M438.8 42.6h0M407.7 46.0h0M449.5 55.2h0M464.2 42.9h0M463.5 54.1h0M430.9 46.7h0M454.3 66.7h0M451.5 46.9h0M459.9 42.6h0M463.8 62.0h0M451.5 43.1h0M460.9 74.8h0M425.2 63.2h0M456.5 35.6h0M461.4 48.5h0M461.1 40.5h0M438.6 70.5h0M458.5 35.2h0M459.9 60.2h0M447.5 56.2h0M461.8 72.2h0M463.8 57.2h0M443.0 44.0h0M448.6 35.8h0M462.0 69.9h0M450.3 52.0h0M431.0 52.0h0M444.9 40.2h0M459.2 56.4h0M440.4 51.5h0M449.7 46.1h0M453.6 64.7h0M434.6 64.6h0M463.2 51.5h0M464.5 56.9h0M440.9 29.0h0M464.4 41.0h0M447.7 41.4h0M454.3 85.5h0M442.6 49.7h0M442.3 54.8h0M424.5 37.2h0M463.0 56.9h0M438.1 39.8h0M461.2 67.2h0M464.2 31.3h0M464.5 68.9h0M448.3 68.6h0M432.0 57.6h0M455.7 30.0h0M431.7 34.9h0M456.3 61.3h0M454.5 54.8h0M462.1 57.2h0M423.9 53.9h0M456.7 71.9h0M440.3 57.6h0M464.0 48.5h0M462.7 51.1h0M452.8 24.3h0M450.7 50.7h0M458.7 41.8h0M420.7 60.2h0M459.9 57.0h0M450.1 45.6h0M440.3 50.5h0M458.1 60.8h0M461.9 42.1h0M458.1 42.8h0M444.6 52.0h0M451.0 49.7h0M459.3 37.2h0M459.5 63.8h0M443.6 58.0h0M452.5 53.4h0M462.5 61.5h0M459.4 36.2h0M450.8 72.7h0M445.1 65.1h0M411.0 50.5h0M461.5 65.6h0M459.8 47.6h0M456.2 53.0h0M462.3 56.8h0M457.1 90.1h0M462.7 52.3h0M450.4 86.7h0M420.1 35.3h0M441.5 76.1h0M450.8 48.9h0M440.5 37.2h0M456.2 51.6h0M441.6 41.6h0M431.3 60.7h0M456.1 44.7h0M440.5 34.0h0M425.4 53.7h0M445.2 54.4h0M431.3 46.5h0M448.5 38.5h0M459.7 42.5h0M457.1 31.8h0M438.9 31.6h0M449.3 63.8h0M446.4 69.3h0M461.9 55.3h0M446.0 46.5h0M464.3 68.6h0M455.0 64.3h0M424.2 68.0h0M446.3 39.1h0M458.7 84.6h0M438.4 50.8h0M456.6 53.1h0" stroke="#808080" stroke-width="2.1" stroke-linecap="square" fill="none"/><path d="M526.6 73.5h0M478.3 65.4h0M492.6 59.3h0M544.0 69.7h0M468.6 62.8h0M494.9 63.1h0M473.0 62.1h0M520.8 55.9h0M520.4 65.1h0M512.1 58.3h0M502.3 28.1h0M543.7 67.2h0M523.4 49.8h0M489.6 41.9h0M479.4 36.5h0M501.7 71.8h0M486.8 65.3h0M474.6 49.2h0M481.6 53.5h0M551.0 68.9h0M485.9 61.5h0M483.8 51.5h0M504.2 65.7h0M481.0 58.0h0M482.6 61.1h0M545.4 70.4h0M509.1 64.1h0M508.3 63.0h0M478.9 64.3h0M469.0 52.7h0M517.3 68.7h0M496.9 51.3h0M552.3 88.0h0M489.9 58.8h0M531.6 59.5h0M477.1 76.7h0M533.5 86.2h0M490.9 32.7h0M491.0 43.2h0M482.4 43.0h0M485.0 65.0h0M513.0 52.6h0M488.2 42.7h0M505.1 53.9h0M475.4 46.6h0M507.9 49.1h0M519.1 59.1h0M501.9 57.1h0M494.8 53.8h0M489.4 62.9h0M507.4 47.0h0M523.7 65.7h0M478.1 63.1h0M489.2 49.8h0M503.2 65.8h0M556.4 44.6h0M535.7 66.9h0M504.8 54.6h0M518.0 58.5h0M544.1 66.3h0M497.5 58.7h0M499.8 95.4h0M512.3 40.6h0M482.1 63.0h0M500.5 43.4h0M466.9 53.7h0M533.0 59.2h0M485.5 53.5h0M475.5 60.3h0M464.6 56.6h0M513.2 68.1h0M470.7 63.8h0M537.0 46.3h0M484.7 48.2h0M513.1 60.7h0M521.8 43.8h0M476.4 66.6h0M498.9 58.4h0M476.6 64.2h0M486.9 57.4h0M522.4 42.4h0M508.7 74.3h0M483.5 68.4h0M508.3 51.9h0M467.3 50.4h0M498.1 55.6h0M543.8 61.1h0M480.3 58.4h0M520.4 69.0h0M530.3 51.1h0M510.6 35.3h0M466.8 62.4h0M528.6 48.7h0M527.4 76.7h0M548.0 77.9h0M475.0 66.1h0M514.1 57.8h0M475.1 84.3h0M504.7 53.9h0M496.4 49.8h0M485.8 59.7h0M494.9 70.6h0M516.4 71.0h0M480.4 61.7h0M465.8 67.1h0M478.0 64.1h0M467.7 62.6h0M544.3 79.6h0M528.4 42.1h0M488.1 51.4h0M498.0 81.2h0M480.6 68.4h0M514.0 77.4h0M555.1 57.7h0M553.5 45.5h0M509.4 56.4h0M556.0 62.0h0M528.3 58.1h0M477.6 71.1h0M468.5 46.7h0M497.3 57.7h0M535.1 59.1h0M520.9 60.2h0M512.4 60.6h0M540.2 69.9h0M550.0 59.4h0M521.8 58.8h0M507.9 28.8h0M490.3 59.0h0M466.6 53.9h0M536.7 69.6h0M552.7 67.3h0M471.7 68.3h0M527.4 70.8h0M506.2 51.8h0M469.0 46.7h0M481.5 61.4h0M558.4 76.3h0M498.6 70.2h0M544.0 47.2h0M549.8 81.9h0M510.8 69.2h0M468.5 62.4h0M474.2 62.9h0M534.4 86.1h0M529.4 51.8h0M520.9 63.5h0M484.5 65.6h0M476.0 59.9h0M553.3 58.5h0M513.0 63.0h0M549.5 71.0h0M497.7 61.7h0M519.5 60.6h0M524.6 65.4h0M523.0 69.7h0M542.6 55.1h0M524.9 59.5h0M520.2 47.8h0M528.0 50.7h0M496.7 61.3h0M517.3 57.1h0M501.4 71.4h0M515.3 86.9h0M525.7 57.5h0M525.6 68.9h0M472.7 54.1h0M475.8 50.2h0M488.1 43.3h0M527.0 73.1h0M491.0 51.3h0M534.3 46.6h0M476.8 79.4h0M539.1 64.8h0M509.8 57.3h0M491.7 44.6h0M473.4 51.4h0M554.1 60.1h0M492.9 67.8h0M481.5 56.8h0M466.1 51.2h0M465.3 54.0h0M486.1 51.4h0M553.9 74.0h0M476.8 57.5h0M536.4 51.9h0M535.8 46.2h0M530.5 64.3h0M516.4 61.1h0M539.2 76.8h0M501.4 52.5h0M535.7 79.7h0M522.9 44.3h0M523.8 46.6h0M507.3 55.5h0M497.9 43.1h0M553.1 49.8h0M508.4 67.8h0M529.1 68.0h0M484.2 86.6h0M516.7 45.4h0M510.9 47.3h0M515.0 58.3h0M481.9 65.8h0M486.1 67.4h0M522.8 64.6h0M466.0 48.8h0M470.3 22.4h0M488.1 71.5h0M502.0 88.5h0M535.0 42.6h0M504.9 77.7h0M543.7 63.0h0M532.0 56.7h0M518.0 63.0h0M483.7 62.8h0M522.7 66.2h0M551.7 61.5h0M501.9 56.2h0M477.1 56.2h0M503.3 62.8h0M510.6 77.3h0M502.5 64.5h0M510.7 90.8h0M508.9 81.7h0M497.0 61.8h0M504.7 73.3h0M543.4 58.2h0M507.9 54.1h0M498.7 82.8h0M481.1 54.2h0M464.8 34.1h0M517.5 85.8h0M477.5 60.5h0M492.8 52.4h0M547.7 60.9h0M480.3 37.0h0M470.2 54.5h0M483.6 74.8h0M540.5 68.0h0M488.7 84.5h0M473.5 59.4h0M555.6 66.2h0M537.5 57.8h0M497.1 54.7h0M511.9 62.2h0M540.6 87.2h0M506.8 33.1h0M497.5 69.2h0M502.7 52.8h0M533.9 55.5h0M476.8 55.3h0M510.4 54.9h0M466.4 49.5h0M537.2 52.0h0M533.8 63.3h0M472.5 54.3h0M477.5 58.6h0M489.7 73.6h0M487.4 73.2h0M488.0 63.0h0M544.2 61.6h0M469.1 49.0h0M526.9 59.4h0M469.6 37.9h0M555.4 57.1h0M545.4 76.9h0M543.9 46.2h0M525.3 66.0h0M507.6 68.3h0M491.6 47.5h0M546.5 53.7h0M506.4 77.9h0M529.5 76.8h0M533.4 55.3h0M530.0 43.4h0M522.9 44.9h0M502.5 60.3h0M476.3 55.7h0M522.7 52.0h0M505.7 50.7h0M502.3 74.1h0M540.4 71.1h0M488.6 63.9h0M526.9 70.7h0M487.9 39.4h0M534.8 95.8h0M472.9 51.6h0M558.9 58.1h0M546.2 74.0h0M537.9 73.3h0M529.2 69.2h0M513.6 50.9h0M482.5 14.1h0M531.1 67.6h0M491.5 54.3h0M484.4 72.2h0M557.1 71.1h0M507.9 80.8h0M539.9 39.5h0M488.2 48.6h0M502.1 68.8h0M549.1 51.2h0M544.8 47.4h0M504.4 71.3h0M501.5 64.8h0M525.7 55.6h0M516.2 71.2h0M466.1 37.8h0M536.2 69.3h0M497.9 59.7h0M546.0 64.6h0M523.5 61.9h0M502.3 61.1h0M510.0 58.2h0M539.3 54.8h0M492.1 63.2h0M466.8 63.9h0M494.5 82.0h0M535.5 56.3h0M476.4 63.7h0M485.0 66.6h0M513.8 55.9h0M494.4 63.4h0M507.7 62.0h0M533.5 53.0h0M485.7 62.9h0M484.3 54.5h0M492.3 41.8h0M475.6 45.5h0M493.4 58.9h0M515.3 73.7h0M525.3 55.7h0M528.6 35.0h0M510.3 41.7h0M480.0 59.8h0M527.6 63.2h0M479.4 57.7h0M549.9 66.4h0M477.0 27.2h0M541.4 75.1h0M532.1 65.7h0M490.4 60.7h0M514.8 65.4h0M485.4 69.4h0M543.5 61.2h0M521.4 59.6h0M474.5 42.3h0M511.0 70.9h0M472.1 64.6h0M513.5 83.0h0M518.6 70.5h0M550.8 41.3h0M534.9 69.8h0M537.3 71.2h0M484.5 56.8h0M485.7 74.6h0M487.1 66.8h0M473.0 62.2h0M511.1 43.0h0M493.3 54.1h0M486.4 60.1h0M559.5 80.3h0M506.2 55.7h0M518.4 78.1h0M510.9 46.4h0M539.7 56.8h0M552.6 64.8h0M551.9 58.8h0M511.4 62.6h0M539.6 56.9h0M465.0 60.0h0M546.0 73.2h0M472.6 70.4h0M488.1 20.7h0M525.7 43.2h0M528.8 50.7h0M542.7 40.7h0M474.1 71.4h0M524.4 57.1h0M490.3 48.8h0M535.0 66.9h0M474.1 56.9h0M523.8 57.4h0M521.3 58.8h0M479.9 49.2h0M489.9 58.9h0M477.6 54.7h0M484.8 87.4h0M501.9 62.8h0M471.7 52.9h0M508.8 33.9h0M491.7 64.9h0M501.4 40.5h0M521.3 61.3h0M492.1 58.9h0M511.5 56.6h0M551.4 47.7h0M497.7 47.2h0M536.6 71.9h0M542.0 49.6h0M524.8 58.3h0M551.7 56.0h0M509.3 75.9h0M535.3 47.0h0M539.4 44.7h0M554.1 82.4h0M513.4 72.2h0M499.2 68.7h0M547.8 46.5h0M524.9 55.0h0M552.3 64.3h0M524.8 53.8h0M526.5 56.5h0M511.6 65.6h0M536.0 81.7h0M528.2 58.3h0M494.2 85.8h0M545.3 76.5h0M505.7 79.7h0M549.1 61.3h0M526.6 61.8h0M498.9 61.3h0M538.1 66.5h0M559.5 57.3h0M478.6 53.8h0M508.8 53.3h0M485.5 57.7h0M515.5 54.4h0M557.3 74.4h0M556.7 58.8h0M468.9 49.6h0M528.6 51.6h0M506.5 50.7h0M491.7 49.1h0M529.7 46.8h0M530.3 45.3h0M552.8 62.9h0M504.8 60.8h0M535.3 66.6h0M485.5 43.4h0M531.3 55.4h0M515.7 51.9h0M469.9 61.4h0M487.2 68.1h0M538.0 68.7h0M552.3 75.1h0M496.2 64.4h0M487.7 84.3h0M478.7 71.0h0M549.3 73.4h0M515.0 65.0h0M534.6 70.9h0M550.6 56.7h0M472.8 68.5h0M506.8 81.0h0M501.9 45.2h0M479.5 59.1h0M472.7 54.0h0M530.6 41.5h0M523.1 57.1h0M551.2 66.1h0M551.4 72.6h0M519.2 61.2h0M546.5 65.5h0M481.3 72.3h0M530.4 57.4h0M501.4 80.0h0M519.8 62.9h0M531.3 71.0h0M523.9 70.1h0M556.1 52.9h0M470.1 46.7h0M505.6 66.0h0M533.3 72.0h0M465.9 63.1h0M551.7 63.7h0M474.3 56.6h0M494.6 48.2h0M483.0 77.2h0M530.0 46.5h0M543.2 49.3h0M535.6 63.2h0M506.2 56.9h0M507.3 59.3h0M468.3 56.5h0M537.5 48.5h0M483.8 56.4h0M515.2 60.3h0M491.1 73.6h0M531.5 62.5h0M498.8 67.6h0M477.7 66.5h0M485.8 61.8h0M527.0 86.6h0M505.5 76.5h0M556.0 48.8h0M494.9 33.6h0M490.0 70.5h0M536.7 68.7h0M546.1 60.6h0M536.6 58.4h0M475.2 72.4h0M557.8 62.8h0M535.2 61.4h0M516.8 50.2h0M529.7 65.8h0M492.3 60.6h0M465.7 58.8h0M508.1 45.2h0M487.2 61.9h0M485.4 42.5h0M510.8 50.0h0M495.8 49.7h0M484.0 59.0h0M475.8 53.7h0M474.6 62.2h0M514.9 55.9h0M517.6 46.6h0M542.3 72.5h0M473.5 48.2h0M480.6 66.4h0M468.0 64.6h0M481.4 58.8h0M477.2 51.7h0M521.0 78.0h0M495.2 42.1h0M493.7 61.9h0M509.0 44.7h0M504.0 49.4h0M550.6 81.1h0M519.0 75.3h0M520.2 67.7h0M523.2 54.9h0M467.1 71.4h0M483.5 47.8h0M513.9 48.2h0M511.8 51.7h0M505.9 76.2h0M495.1 75.3h0M557.2 52.8h0M484.5 13.1h0M476.7 39.6h0M507.4 56.8h0M548.0 66.8h0M489.2 54.8h0M550.7 74.7h0M477.4 64.6h0M558.0 60.4h0M531.1 75.6h0M484.5 60.9h0M523.2 50.5h0M491.5 54.9h0M493.5 64.0h0M464.6 49.2h0M557.9 46.9h0M504.6 76.4h0M532.5 89.6h0M510.1 62.1h0M470.4 42.0h0M466.9 45.9h0M469.1 52.3h0M487.3 73.3h0M531.6 67.2h0M556.4 61.0h0M543.4 58.8h0M554.5 69.3h0M504.1 59.6h0M526.9 45.6h0M514.5 62.3h0M523.4 62.9h0M526.9 24.8h0M505.0 65.2h0M476.0 60.9h0M481.5 48.9h0M494.7 34.6h0M517.3 77.7h0M556.3 53.9h0M465.3 64.8h0M533.2 42.8h0M559.4 72.8h0M492.3 43.6h0M476.0 64.0h0M540.6 53.2h0M472.2 49.7h0M534.9 74.0h0M548.8 72.1h0M515.8 68.9h0M541.2 58.1h0M491.7 52.3h0M478.8 62.4h0M479.9 54.6h0M505.8 59.3h0M501.1 45.0h0M465.2 30.0h0M537.0 58.7h0M492.7 53.7h0M478.3 82.0h0M486.7 57.8h0M557.0 61.0h0M502.6 51.5h0M543.3 68.6h0M495.9 67.1h0M497.8 52.9h0M511.9 66.2h0M490.1 52.5h0M473.3 57.9h0M528.1 84.5h0M518.4 66.3h0M472.2 66.1h0M510.2 57.3h0M497.0 64.8h0M470.5 64.1h0M520.8 82.3h0M493.0 81.9h0M545.2 74.1h0M465.3 62.8h0M532.8 53.6h0M487.3 79.2h0M485.8 79.2h0M477.7 51.4h0M504.1 69.5h0M556.0 62.5h0M486.9 83.6h0M523.9 59.4h0M492.0 63.9h0M550.6 68.2h0M514.1 58.0h0M483.1 54.8h0M512.2 72.4h0M527.7 86.9h0M558.1 62.4h0M465.5 50.0h0M533.0 47.6h0M536.5 62.5h0M524.5 66.5h0M528.1 44.9h0M520.7 33.9h0M487.6 51.4h0M500.9 60.0h0M544.5 70.6h0M496.1 48.9h0M557.4 45.5h0M501.7 58.9h0M489.1 48.9h0M555.0 66.7h0M518.2 65.7h0M523.0 53.4h0M506.4 59.4h0M540.5 62.2h0M475.7 55.9h0M485.0 67.9h0M527.1 62.9h0M524.7 47.3h0M527.7 60.3h0M478.7 56.0h0M523.9 60.9h0M546.7 56.2h0M490.7 54.5h0M514.0 64.4h0M493.9 66.9h0M527.5 49.1h0M513.2 45.5h0M514.7 64.8h0M506.0 43.1h0M496.6 72.4h0M510.6 62.3h0M507.9 54.1h0M525.2 52.6h0M544.2 74.6h0M551.5 71.2h0M530.6 49.7h0M491.9 56.5h0M536.7 62.9h0M485.1 53.3h0M493.9 57.4h0M486.0 49.4h0M496.7 54.9h0M517.4 68.4h0M515.4 66.9h0M500.3 49.7h0M542.6 52.8h0M555.9 65.6h0M540.7 46.2h0M550.1 54.9h0M521.7 55.8h0M481.3 63.5h0M528.8 59.9h0M532.9 47.8h0M479.8 36.0h0M534.9 65.6h0M554.2 53.6h0M509.8 65.5h0M485.9 55.2h0M491.5 76.0h0M502.7 53.9h0M535.7 68.8h0M534.7 70.6h0M512.6 43.1h0M510.6 63.1h0M543.4 72.7h0M520.7 72.4h0M465.4 48.1h0M486.4 64.7h0M486.9 72.7h0M531.9 37.1h0M516.2 58.9h0M488.7 74.4h0M500.8 63.1h0M512.3 43.9h0M505.7 66.4h0M477.4 61.0h0M556.6 54.8h0M474.1 57.2h0M501.6 51.3h0M509.9 73.0h0M534.2 61.4h0M534.0 48.0h0M509.5 52.2h0M503.6 69.8h0M500.1 51.9h0M542.8 46.3h0M512.6 64.7h0M524.6 48.9h0M517.8 77.4h0M492.2 64.6h0M529.3 61.1h0M551.2 63.0h0M477.2 62.8h0M548.0 49.4h0M537.7 78.7h0M464.6 57.0h0M477.7 53.6h0M510.8 64.1h0M502.9 71.8h0M522.2 69.0h0M481.6 65.1h0M551.8 64.2h0M506.6 50.4h0M519.6 61.5h0M548.0 50.0h0M551.8 63.7h0M516.6 45.6h0M532.5 44.4h0M503.7 52.0h0M519.4 32.1h0M508.2 63.0h0M511.2 71.3h0M527.6 50.8h0M474.5 61.8h0M492.8 59.6h0M543.1 48.8h0M480.2 58.5h0M509.7 49.2h0M526.4 66.0h0M526.1 74.7h0M466.5 64.2h0M485.2 74.1h0M538.6 78.7h0M512.6 47.4h0M505.3 74.3h0M530.5 65.8h0M505.6 58.8h0M491.9 77.5h0M466.2 61.4h0M531.7 46.2h0M551.9 40.8h0M501.4 49.7h0M515.4 53.8h0M529.8 68.3h0M495.8 63.6h0M537.6 55.6h0M518.0 84.5h0M485.9 63.0h0M499.6 57.8h0M506.0 51.3h0M492.0 53.5h0M488.1 60.6h0M557.9 52.1h0M480.3 53.6h0M484.9 59.1h0M499.4 59.6h0M499.5 64.8h0M507.4 62.2h0M496.9 52.7h0M504.8 46.1h0M543.3 71.7h0M500.2 64.4h0M489.8 60.6h0M556.9 79.1h0M526.6 68.3h0M552.4 73.1h0M510.0 60.7h0M483.8 42.3h0M500.3 76.2h0M542.2 92.4h0M510.0 58.4h0M524.3 57.1h0M477.9 60.0h0M506.8 47.2h0M497.8 51.4h0M466.7 53.2h0M519.3 47.4h0M526.6 54.9h0M469.9 54.3h0M530.4 49.0h0M529.4 57.4h0M496.6 91.0h0M530.2 70.2h0M516.2 63.2h0M552.6 44.9h0M514.1 57.5h0M530.8 68.2h0M537.7 61.4h0M481.1 55.4h0M530.1 48.4h0M480.7 57.6h0M541.7 73.8h0M480.0 52.9h0M476.4 49.0h0M496.8 60.6h0M477.1 42.4h0M476.9 57.3h0M526.9 52.2h0M542.6 63.8h0M553.9 63.7h0M550.4 59.9h0M484.7 46.8h0M554.8 53.4h0M525.1 39.8h0M481.7 63.0h0M531.1 89.9h0M474.3 69.5h0M515.5 45.2h0M541.4 67.5h0M528.4 64.5h0M543.8 67.2h0M521.4 54.2h0M474.4 60.8h0M495.9 66.8h0M478.6 26.3h0M526.6 63.8h0M523.5 70.0h0M535.2 37.1h0M535.7 61.9h0M491.3 64.1h0M540.7 60.6h0M512.5 71.0h0M522.7 55.7h0M506.8 58.8h0M528.4 63.4h0M549.1 61.9h0M496.5 63.1h0M521.6 83.6h0M529.5 50.3h0M512.4 76.6h0M553.5 63.3h0M505.0 42.8h0M491.0 58.9h0M469.8 72.0h0M512.1 58.9h0M509.3 72.4h0M521.0 62.5h0M475.3 47.8h0M472.0 52.0h0M488.8 49.8h0M532.7 49.6h0M558.2 24.1h0M485.6 54.3h0M543.3 82.4h0M523.6 53.5h0M529.6 68.4h0M494.0 71.3h0M542.2 62.8h0M538.4 53.9h0M517.0 54.1h0M538.6 72.2h0M547.9 66.1h0M465.1 62.1h0M494.9 33.8h0M538.3 66.0h0M539.7 53.9h0M505.4 57.2h0M525.6 50.8h0M505.4 55.9h0M548.7 65.3h0M503.9 55.5h0M518.5 63.6h0M479.1 50.3h0M484.1 55.7h0M521.4 56.6h0M488.5 66.7h0M480.6 33.2h0M554.5 53.6h0M477.7 58.1h0M557.1 63.2h0M498.9 71.8h0M551.7 48.9h0M505.9 11.7h0M495.8 56.3h0M492.0 46.2h0M511.2 71.5h0M521.2 89.4h0M468.7 58.0h0M505.6 86.0h0M476.2 62.3h0M487.6 58.3h0M508.3 67.0h0M481.6 57.4h0M526.3 56.1h0M465.6 40.7h0M499.7 56.8h0M555.5 66.9h0M501.4 79.1h0M509.0 55.9h0M522.1 46.5h0M550.7 54.0h0M507.7 63.0h0M547.3 68.4h0M519.1 66.4h0M557.5 70.2h0M548.3 67.0h0M550.3 68.2h0M494.1 62.3h0M559.1 48.8h0M492.7 55.5h0M537.2 59.3h0M546.1 63.8h0M547.2 65.8h0M502.6 78.5h0M503.1 57.6h0M520.7 64.6h0M500.0 65.1h0M499.0 80.0h0M503.4 60.1h0M468.5 81.2h0M555.7 72.3h0M464.6 47.0h0M504.1 74.2h0M495.7 67.0h0M505.3 55.7h0M492.1 67.5h0M469.0 49.7h0M547.8 55.6h0M513.9 63.6h0M556.1 58.2h0M518.6 42.2h0M487.7 54.5h0M503.1 50.9h0M515.6 66.8h0M512.8 60.0h0M517.0 54.1h0M473.4 46.6h0M547.5 43.6h0M513.1 50.0h0M535.8 74.4h0M521.7 78.0h0M468.1 73.4h0M557.6 69.0h0M527.8 74.3h0M521.8 48.2h0M485.5 73.8h0M480.3 40.3h0M507.5 69.6h0M479.1 57.4h0M500.2 79.6h0M533.2 60.7h0M547.2 54.0h0M516.4 49.2h0M481.7 56.0h0M491.6 44.6h0M470.6 54.9h0M504.8 62.3h0M533.9 79.5h0M489.3 66.3h0M494.8 60.9h0M546.4 71.6h0M467.3 68.5h0M528.1 46.8h0M516.8 62.3h0M558.4 77.9h0M494.8 75.4h0M515.1 68.2h0M532.0 70.8h0M529.1 61.9h0M516.1 85.0h0M518.2 64.7h0M481.8 62.3h0M535.1 76.5h0M511.0 63.6h0M494.6 74.5h0M516.1 59.6h0M526.9 61.1h0M526.9 62.4h0M534.5 61.6h0M479.3 80.4h0M477.9 53.1h0M477.6 54.1h0M544.6 53.3h0M539.1 74.1h0M528.2 73.8h0M495.3 70.9h0M549.0 77.5h0M502.0 41.8h0M504.3 69.8h0M509.8 55.0h0M556.3 56.0h0M530.8 66.6h0M501.6 62.5h0M473.1 66.4h0M552.6 65.4h0M495.3 40.0h0M540.4 78.5h0M500.1 59.7h0M470.5 85.1h0M521.9 63.1h0M545.9 48.6h0M518.9 71.0h0M501.2 69.0h0M484.0 45.3h0M536.6 44.0h0M524.6 61.0h0M481.0 50.9h0M513.1 69.3h0M559.5 72.4h0M507.0 68.0h0M542.0 60.8h0M492.9 65.8h0M497.5 81.3h0M528.5 53.9h0M498.3 80.1h0M488.6 48.0h0M530.9 63.6h0M551.7 68.6h0M546.0 53.5h0M481.3 41.4h0M541.8 63.5h0M504.0 50.9h0M535.1 62.6h0M508.4 75.9h0M483.7 31.5h0M507.3 76.5h0M554.5 57.4h0M541.3 47.7h0M504.0 71.9h0M543.6 65.5h0M544.4 64.7h0M554.2 46.2h0M489.4 66.8h0M528.9 31.4h0M544.4 53.7h0M550.3 48.5h0M484.1 56.6h0M477.6 70.0h0M504.0 59.4h0M544.5 52.0h0M479.8 69.0h0M524.9 46.7h0M551.2 74.2h0M479.8 49.8h0M523.9 63.9h0M539.8 58.9h0M489.3 46.1h0M506.5 50.7h0M507.0 84.9h0M473.2 50.9h0M518.3 45.0h0M485.7 65.4h0M529.0 77.9h0M529.0 36.4h0M469.5 73.5h0M526.3 78.2h0M513.4 61.1h0M515.5 54.9h0M536.2 44.2h0M475.1 54.4h0M500.6 52.4h0M509.5 53.1h0M494.8 58.6h0M536.8 57.3h0M543.6 56.3h0M514.2 72.3h0M487.9 50.4h0M510.8 76.6h0M502.6 75.9h0M499.4 61.9h0M489.5 65.9h0M477.1 58.2h0M472.9 70.4h0M474.5 55.6h0M513.0 44.2h0M536.9 44.1h0M524.6 71.5h0M487.1 65.7h0M551.6 65.3h0M558.8 67.6h0M522.7 44.2h0M488.6 73.4h0M509.5 88.0h0M508.5 82.8h0M488.9 56.3h0M519.3 45.7h0M488.4 60.4h0M507.5 73.4h0M537.5 54.9h0M558.1 72.5h0M536.3 89.9h0M504.0 48.2h0M530.3 44.8h0M511.6 49.0h0M480.3 51.8h0M485.0 51.2h0M524.7 68.0h0M533.4 60.8h0M521.5 62.9h0M496.6 50.3h0M509.3 45.8h0M554.3 74.2h0M484.0 71.5h0M507.1 48.3h0M501.0 53.3h0M537.7 35.6h0M512.8 58.6h0M485.0 62.1h0M509.5 58.9h0M473.4 58.8h0M472.3 48.7h0M532.1 47.6h0M523.6 81.8h0M476.3 70.0h0M485.7 57.8h0M517.8 62.6h0M480.7 46.4h0M469.7 48.4h0M479.4 48.7h0M504.3 75.0h0M504.8 80.5h0M496.9 48.9h0M514.6 78.5h0M495.9 48.5h0M473.5 49.3h0M470.3 72.1h0M539.2 52.7h0M495.9 58.4h0M494.7 76.5h0M501.5 52.6h0M515.1 50.3h0M520.7 60.6h0M498.3 47.8h0M534.0 74.4h0M491.3 46.4h0M519.2 47.6h0M488.5 34.4h0M538.0 65.6h0M524.1 52.1h0M522.7 72.0h0M545.0 72.6h0M529.6 60.0h0M511.4 48.4h0M501.4 71.6h0M506.1 85.5h0M491.9 72.4h0M536.6 61.6h0M485.7 58.9h0M492.2 61.3h0M502.2 41.2h0M490.0 68.2h0M547.2 60.6h0M525.8 48.5h0M499.6 54.5h0M496.5 66.9h0M537.4 58.6h0M533.9 52.5h0M485.8 50.5h0M498.8 69.0h0M550.1 42.5h0M502.5 62.4h0M495.5 57.0h0M513.2 57.2h0M482.6 52.0h0M508.8 63.9h0M492.5 74.0h0M522.0 62.1h0M553.5 73.9h0M544.1 63.0h0M502.9 48.8h0M543.7 63.3h0M523.6 71.2h0M541.5 67.6h0M513.3 64.8h0M524.8 64.4h0M502.9 45.1h0M554.1 41.9h0M496.4 54.6h0M490.8 43.0h0M514.8 67.0h0M490.3 56.3h0M501.4 67.0h0M477.2 46.6h0M516.2 53.2h0M552.2 77.5h0M514.1 42.7h0M500.6 55.9h0M471.2 57.7h0M503.0 50.0h0M516.0 63.3h0M508.8 84.8h0M491.3 38.8h0M508.5 70.8h0M527.0 80.4h0M537.5 59.4h0M497.7 27.1h0M558.0 69.2h0M497.7 52.1h0M494.7 51.9h0M519.2 73.3h0M510.8 76.9h0M494.5 39.1h0M537.9 79.4h0M492.9 34.1h0M505.0 66.0h0M536.6 82.2h0M523.7 59.8h0M551.7 69.4h0M503.4 76.6h0M532.6 60.0h0M480.3 70.4h0M467.3 76.4h0M518.2 77.7h0M484.2 65.6h0M476.5 73.6h0M472.8 76.1h0M495.2 53.5h0M499.6 44.0h0M510.9 46.6h0M545.0 72.3h0M498.0 37.7h0M477.0 62.4h0M494.5 53.8h0M497.8 57.4h0M480.9 59.1h0M539.1 50.9h0M517.8 73.7h0M491.7 82.6h0M538.1 54.8h0M527.2 55.5h0M549.9 48.8h0M546.1 59.0h0M469.2 58.6h0M549.4 61.6h0M494.3 42.7h0M518.9 76.4h0M476.2 64.3h0M483.0 66.7h0M503.1 65.6h0M555.6 59.5h0M523.5 50.2h0M479.6 64.0h0M470.8 37.8h0M519.2 67.4h0M557.6 42.7h0M533.5 47.4h0M496.9 62.0h0M509.4 57.9h0M480.9 38.8h0M505.9 72.6h0M517.2 45.6h0M537.1 67.2h0M493.1 79.6h0M483.0 52.7h0M503.1 57.5h0M513.0 49.8h0M470.5 32.1h0M513.8 63.7h0M475.6 62.2h0M474.3 74.5h0M529.0 46.1h0M549.3 58.4h0M511.9 54.3h0M535.3 66.1h0M472.6 39.5h0M476.2 62.4h0M506.0 85.7h0M501.8 73.1h0M481.3 71.8h0M490.7 45.8h0M470.1 54.1h0M517.6 48.2h0M545.7 65.8h0M475.4 46.0h0M509.9 67.1h0M513.3 65.5h0M515.3 51.1h0M493.4 72.6h0M495.4 67.8h0M481.9 46.2h0M517.3 61.2h0M502.8 69.9h0M514.5 47.1h0M469.9 62.0h0M550.8 53.3h0M558.7 60.1h0M518.1 74.5h0M504.8 57.0h0M508.7 68.1h0M499.6 72.0h0M481.6 64.5h0M500.5 58.2h0M470.3 41.4h0M520.7 76.7h0M532.5 58.8h0M507.8 11.2h0M477.8 39.6h0M472.4 44.2h0M508.9 68.1h0M485.4 55.3h0M519.8 63.1h0M522.8 56.6h0M512.6 39.8h0M502.1 50.8h0M474.5 39.0h0M480.9 42.8h0M530.4 56.8h0M533.6 73.0h0M551.7 60.1h0M549.6 62.0h0M517.6 71.1h0M507.4 55.7h0M495.2 66.2h0M527.4 68.1h0M514.9 66.9h0M466.0 48.3h0M528.4 57.8h0M494.5 65.9h0M513.4 69.2h0M491.4 66.2h0M468.7 54.6h0M533.3 69.3h0M483.6 72.0h0M510.7 45.1h0M468.0 56.5h0M482.9 60.4h0M478.6 64.0h0M534.4 54.6h0M519.7 68.9h0M531.0 41.5h0M507.3 68.1h0M486.3 47.0h0M484.9 65.2h0M551.9 58.0h0M479.4 57.0h0M471.8 57.0h0M471.4 61.5h0M492.9 58.2h0M469.0 39.3h0M511.5 74.3h0M469.5 74.0h0M505.7 73.1h0M532.8 82.2h0M500.5 53.9h0M510.2 57.2h0M541.7 77.2h0M522.0 61.6h0M498.6 58.9h0M532.2 59.4h0M518.1 49.1h0M549.8 55.5h0M491.8 58.8h0M514.3 53.2h0M493.5 55.3h0M549.6 65.5h0M555.9 43.2h0M517.7 75.6h0M483.4 56.8h0M465.7 52.0h0M553.3 57.4h0M478.7 53.0h0M558.5 54.4h0M466.6 52.8h0M527.3 51.8h0M537.5 68.7h0M489.0 47.9h0M480.4 58.3h0M545.2 76.1h0M508.0 56.8h0M534.3 69.4h0M535.0 57.0h0M502.3 72.2h0M513.1 56.7h0M499.6 62.2h0M525.0 69.2h0M506.3 67.0h0M555.1 72.2h0M503.2 74.3h0M538.2 64.2h0M514.3 47.8h0M486.4 71.1h0M542.0 74.4h0M484.4 47.5h0M548.7 72.5h0M481.1 53.2h0M508.6 60.9h0M541.0 63.4h0M502.2 66.6h0M542.8 33.9h0M506.3 70.4h0M506.4 53.7h0M467.3 39.7h0M524.7 53.5h0M532.6 51.1h0M527.2 73.6h0M539.0 78.5h0M518.8 54.4h0M477.2 73.9h0M551.1 70.7h0M490.7 68.1h0M490.9 55.5h0M490.8 49.2h0M504.2 62.9h0M528.7 60.1h0M490.4 59.9h0M544.3 65.0h0M529.8 47.4h0M479.7 71.2h0M529.3 85.3h0M546.9 45.0h0M465.0 48.9h0M504.6 70.1h0M529.4 48.5h0M514.1 35.8h0M515.7 51.4h0M503.7 39.0h0M551.4 66.2h0M517.3 62.0h0M471.0 80.6h0M496.5 56.5h0M535.4 72.1h0M545.9 61.7h0M540.4 81.5h0M526.1 68.4h0M524.6 37.7h0M544.2 50.2h0M500.0 61.1h0M503.4 70.8h0M500.2 64.5h0M499.4 67.9h0M529.2 77.1h0M520.3 50.4h0M518.9 61.7h0M555.9 52.8h0M503.1 67.1h0M555.7 73.5h0M500.0 65.2h0M497.5 48.9h0M500.8 46.9h0M521.5 51.0h0M475.6 54.4h0M532.4 55.7h0M528.3 62.3h0M537.1 65.1h0M546.8 55.4h0M504.1 61.1h0M477.7 79.1h0M511.2 74.5h0M516.7 63.3h0M480.8 33.6h0M505.1 58.0h0M491.4 53.5h0M522.2 71.6h0M509.7 47.1h0M505.5 49.8h0M470.1 56.4h0M501.8 77.0h0M502.9 86.3h0M510.1 64.0h0M535.2 64.2h0M495.9 65.2h0M490.7 77.7h0M510.0 29.8h0M555.5 69.0h0M527.6 65.8h0M478.4 73.2h0M497.0 75.1h0M525.3 82.6h0M488.5 63.5h0M523.2 63.4h0M538.4 69.4h0M527.1 57.3h0M519.8 56.8h0M526.2 65.1h0M506.9 65.6h0M522.8 56.4h0M516.4 61.8h0M519.7 61.4h0M476.5 74.8h0M539.2 51.3h0M478.5 68.0h0M482.1 36.7h0M518.1 67.1h0M472.8 64.6h0M508.4 67.1h0M507.0 52.0h0M482.2 63.3h0M488.0 69.1h0M493.5 57.7h0M512.4 51.2h0M464.7 40.6h0M531.3 45.6h0M493.3 64.1h0M471.6 64.1h0M509.2 61.8h0M524.3 49.8h0M546.7 42.8h0M487.3 61.7h0M519.4 54.1h0M506.9 43.1h0M508.9 58.4h0M531.8 69.1h0M501.7 55.9h0M526.0 64.3h0M554.7 58.5h0M487.8 43.5h0M483.1 60.5h0M526.8 54.4h0M499.5 64.0h0M512.9 43.2h0M494.1 54.7h0M497.1 54.0h0M514.0 71.4h0M507.7 61.2h0M516.1 54.1h0M468.5 35.5h0M538.0 59.8h0M505.1 57.7h0M485.8 66.8h0M523.0 62.5h0M519.0 62.3h0M507.4 48.6h0M491.9 62.4h0M516.8 46.3h0M517.8 77.0h0M480.2 77.0h0M510.7 58.8h0M475.9 65.7h0M541.4 62.3h0M558.1 42.7h0M518.3 43.5h0M492.7 82.3h0M541.7 48.2h0M495.4 65.5h0M509.1 63.4h0M540.7 64.3h0M495.8 47.7h0M482.6 64.6h0M464.7 51.0h0M505.7 47.4h0M507.1 67.2h0M550.3 48.9h0M488.5 56.5h0M510.3 56.4h0M509.1 52.0h0M493.8 61.5h0M530.1 47.3h0M477.5 50.0h0M551.7 76.8h0M526.6 61.9h0M537.2 64.5h0M513.9 67.2h0M511.5 62.3h0M504.5 45.7h0M527.4 60.2h0M466.0 56.8h0M548.1 56.5h0M543.9 57.6h0M548.7 63.7h0M526.5 66.1h0M555.8 52.5h0M511.0 71.2h0M541.9 47.4h0M515.8 52.1h0M502.4 44.0h0M469.4 28.2h0M518.4 63.7h0M534.0 54.8h0M537.2 61.8h0M535.2 43.9h0M466.7 58.6h0M468.1 49.3h0M489.2 67.8h0M509.1 62.4h0M484.9 61.8h0M527.5 73.9h0M491.8 69.2h0M489.4 74.7h0M519.7 48.7h0M522.3 69.6h0M550.6 82.6h0M513.4 60.0h0M468.8 50.0h0M515.3 71.0h0M549.8 58.0h0M534.8 47.7h0M485.0 47.3h0M529.9 53.5h0M521.5 42.6h0M480.0 83.0h0M512.4 72.2h0M486.4 64.8h0M547.3 46.2h0M491.2 49.0h0M493.8 65.0h0M504.7 67.6h0M549.0 60.9h0M492.9 41.5h0M465.6 68.8h0M502.0 69.7h0M493.3 73.0h0M553.2 65.6h0M493.8 54.9h0M553.2 75.0h0M473.8 68.3h0M497.7 41.5h0M488.7 56.2h0M521.0 57.7h0M479.3 64.2h0M498.8 63.1h0M552.8 59.4h0M498.9 55.9h0M501.9 61.0h0M503.4 45.2h0M514.6 41.4h0M517.1 57.6h0M517.0 77.1h0M553.7 71.8h0M504.6 61.9h0M555.5 63.8h0M512.7 56.3h0M496.7 61.1h0M541.6 49.0h0M484.3 53.4h0M491.2 57.8h0M506.5 41.9h0M542.3 49.0h0M539.0 62.0h0M502.2 62.4h0M541.4 65.7h0M465.1 73.0h0M524.8 89.3h0M534.9 66.4h0M504.3 64.5h0M468.1 56.3h0M501.8 58.7h0M487.0 56.0h0M544.9 56.5h0M501.8 65.0h0M508.8 55.5h0M480.3 60.2h0M476.7 87.6h0M544.8 79.3h0M500.0 43.3h0M487.6 73.3h0M541.6 71.0h0M491.4 73.7h0M555.9 60.7h0M465.8 42.4h0M549.2 45.1h0M469.6 59.7h0M477.1 68.6h0M499.9 65.2h0M504.1 51.3h0M501.6 47.9h0M481.7 77.7h0M526.1 40.5h0M485.2 64.9h0M548.6 55.0h0M478.7 55.1h0M528.2 71.9h0M487.3 79.1h0M553.7 56.9h0M478.5 51.6h0M499.2 50.5h0M511.0 65.8h0M547.3 64.3h0M521.9 62.3h0M491.3 76.0h0M513.2 50.3h0M503.9 60.9h0M540.8 68.6h0M529.3 68.2h0M495.9 57.1h0M509.8 75.8h0M551.2 58.8h0M548.2 62.4h0M513.8 44.0h0M519.8 70.6h0M526.4 53.7h0M511.4 63.8h0M504.7 65.8h0M482.7 52.8h0M542.8 53.3h0M500.6 48.7h0M507.6 61.9h0M507.7 54.2h0M492.0 81.6h0M472.3 66.5h0M526.0 78.6h0M549.6 56.3h0M531.6 64.8h0M524.1 47.7h0M492.2 65.5h0M477.3 65.7h0M513.5 59.4h0M538.7 87.0h0M470.1 77.9h0M504.9 55.9h0M494.1 63.7h0M544.7 68.3h0M468.8 64.3h0M503.4 80.4h0M495.6 53.5h0M503.1 64.7h0M498.5 65.2h0M519.7 57.1h0M478.2 61.0h0M481.5 34.7h0M499.1 55.7h0M523.5 62.2h0M508.3 64.5h0M493.0 59.6h0M501.2 52.7h0M467.1 57.6h0M535.1 55.9h0M515.4 48.5h0M509.7 49.0h0M509.2 85.3h0M476.5 55.8h0M525.1 69.7h0M522.3 55.9h0M528.3 59.7h0M546.8 44.2h0M472.5 52.4h0M482.5 58.8h0M495.5 63.4h0M533.4 51.9h0M466.6 50.6h0M517.0 42.8h0M477.1 52.8h0M473.7 69.4h0M492.9 46.0h0M487.3 66.0h0M469.0 60.0h0M540.3 50.6h0M514.0 40.8h0M512.1 76.6h0M486.6 47.0h0M509.3 60.7h0M479.4 65.0h0M483.3 69.3h0M505.5 73.6h0M492.3 47.6h0M475.3 59.4h0M519.7 58.2h0M529.7 85.2h0M506.0 66.3h0M558.3 47.6h0M550.8 39.5h0M481.2 59.7h0M474.2 79.9h0M487.6 51.3h0M498.8 74.4h0M488.9 59.5h0M497.5 40.0h0M541.6 59.8h0M465.2 57.5h0M526.6 19.8h0M499.8 58.2h0M537.3 61.5h0M553.5 78.6h0M548.4 66.2h0M466.7 57.3h0M519.3 57.9h0M518.7 59.9h0M512.6 45.9h0M523.1 80.3h0M540.6 32.5h0M509.5 63.4h0M526.3 49.5h0M519.8 40.6h0M473.3 68.7h0M559.2 50.3h0M511.5 62.2h0M532.7 64.0h0M480.5 68.2h0M479.3 76.5h0M480.6 66.3h0M508.3 50.4h0M480.8 64.1h0M483.1 42.6h0M482.1 38.0h0M519.0 54.6h0M525.0 50.9h0M468.9 48.8h0M501.5 46.7h0M483.9 38.5h0M548.4 54.5h0M502.1 53.6h0M491.6 73.8h0M499.1 62.6h0M534.6 82.0h0M475.9 48.2h0M483.4 53.5h0M519.8 71.4h0M468.0 66.0h0M487.1 41.2h0M477.9 61.0h0M549.8 84.2h0M537.4 42.4h0M539.4 40.1h0M507.0 64.9h0M474.8 46.3h0M491.2 66.7h0M499.4 38.9h0M557.3 44.5h0M504.5 41.5h0M505.9 71.8h0M501.9 71.4h0M497.0 58.1h0M489.6 70.1h0M490.8 36.6h0M502.9 79.5h0M511.0 47.6h0M502.1 73.9h0M524.3 56.8h0M551.8 54.3h0M505.2 72.9h0M544.7 70.3h0M505.8 58.3h0M468.4 65.4h0M535.2 57.0h0M505.9 48.1h0M527.6 90.1h0M497.4 34.6h0M470.8 38.1h0M524.0 42.4h0M504.8 55.9h0M530.8 69.8h0M518.6 69.7h0M472.8 64.4h0M522.4 48.1h0M538.2 59.9h0M549.0 53.8h0M493.9 58.3h0M500.5 67.5h0M513.6 52.3h0M535.9 73.6h0M518.3 55.0h0M498.7 53.3h0M509.8 62.1h0M553.3 75.3h0M480.4 37.3h0M470.0 60.6h0M484.2 51.9h0M539.9 54.4h0M492.2 76.6h0M473.1 57.6h0M482.8 59.7h0M536.0 54.2h0M469.3 48.1h0M477.9 47.7h0M497.7 53.0h0M532.4 49.7h0M544.7 67.9h0M551.5 66.2h0M537.3 68.7h0M535.9 73.0h0M485.3 49.6h0M537.3 48.7h0M527.8 101.2h0M531.8 57.3h0M504.5 55.8h0M501.3 59.4h0M464.9 56.9h0M511.6 71.2h0M508.3 11.9h0M510.4 56.7h0M505.5 68.2h0M556.8 39.7h0M496.9 49.4h0M533.6 67.7h0M475.2 61.5h0M480.0 69.2h0M549.7 43.5h0M502.0 54.0h0M539.8 51.2h0M500.3 57.1h0M550.7 46.6h0M494.2 59.7h0M469.9 70.0h0M530.5 50.4h0M513.2 60.0h0M539.9 48.5h0M472.5 81.3h0M509.5 47.7h0M466.2 73.9h0M532.5 55.5h0M491.8 68.4h0M482.7 70.8h0M500.7 38.7h0M553.2 51.2h0M503.5 49.3h0M514.1 56.8h0M493.7 54.8h0M540.2 66.2h0M506.2 58.4h0M511.9 56.4h0M537.2 56.1h0M556.3 41.1h0M508.8 47.7h0M531.3 52.5h0M500.9 64.2h0M549.9 66.6h0M501.9 61.5h0M522.5 49.6h0M525.5 64.1h0M490.0 54.0h0M471.3 69.5h0M465.7 62.3h0M478.8 65.8h0M537.7 62.5h0M497.8 63.4h0M543.0 85.3h0M467.3 55.2h0M529.9 70.4h0M520.4 75.4h0M534.1 59.3h0M481.0 33.0h0M559.5 61.9h0M547.4 74.3h0M515.8 71.1h0M558.7 68.1h0M512.5 72.4h0M520.2 58.4h0M537.5 54.8h0M476.1 48.4h0M485.8 71.8h0M533.5 56.6h0M484.3 63.4h0M480.4 70.2h0M472.4 64.7h0M481.3 40.8h0M512.9 67.3h0M526.7 62.0h0M529.5 55.5h0M537.7 77.1h0M544.0 64.1h0M520.3 62.0h0M495.8 60.3h0M508.6 65.1h0M498.3 60.3h0M530.2 74.7h0M509.2 66.8h0M536.3 63.1h0M539.2 57.4h0M487.7 54.0h0M541.8 73.3h0M548.1 51.5h0M536.0 61.9h0M506.9 39.6h0M501.2 56.1h0M487.1 51.1h0M487.7 79.0h0M547.2 52.0h0M493.7 43.9h0M518.6 60.7h0M511.4 64.7h0M473.1 54.2h0M501.5 71.8h0M533.2 58.8h0M472.3 52.8h0M523.0 57.8h0M529.9 47.9h0M517.1 56.1h0M526.0 44.1h0M502.1 59.6h0M506.8 77.3h0M522.0 67.4h0M490.2 66.9h0M479.4 52.8h0M480.9 66.9h0M484.2 65.5h0M469.6 56.3h0M494.4 57.9h0M528.5 51.5h0M533.4 70.1h0M465.2 56.1h0M516.5 71.0h0M490.8 59.8h0M481.0 51.2h0M514.4 72.5h0M491.7 72.8h0M500.6 53.2h0M558.1 45.1h0M501.5 42.3h0M478.8 54.6h0M529.0 58.4h0M535.8 73.0h0M512.0 72.3h0M486.6 53.3h0M496.4 59.8h0M530.5 67.4h0M499.8 78.1h0M487.3 37.0h0M502.8 64.9h0M529.9 60.6h0M531.1 51.7h0M507.4 42.9h0M484.5 59.2h0M468.9 72.8h0M497.0 51.0h0M493.4 56.3h0M487.5 49.2h0M506.6 53.8h0M508.3 58.1h0M499.1 53.4h0M545.0 53.5h0M524.6 70.7h0M523.8 51.6h0M544.9 68.7h0M481.5 67.1h0M548.7 53.6h0M537.0 67.8h0M548.9 40.7h0M469.8 38.5h0M498.5 48.2h0M518.6 48.6h0M505.3 54.0h0M480.5 55.9h0M465.6 39.5h0M502.0 75.4h0M513.7 50.7h0M545.6 54.0h0M525.3 67.3h0M469.2 70.0h0M547.8 61.2h0M491.4 54.5h0M506.4 81.7h0M496.4 17.4h0M526.5 55.8h0M538.0 78.6h0M484.8 58.7h0M482.0 52.1h0M471.4 40.6h0M516.3 72.7h0M508.1 49.8h0M543.3 56.9h0M521.2 61.3h0M528.5 68.9h0M538.0 62.6h0M526.4 77.0h0M528.8 68.7h0M525.7 55.7h0M550.2 74.9h0M490.2 65.1h0M534.7 44.4h0M502.8 64.8h0M527.2 63.8h0M496.6 62.8h0M470.7 51.0h0M553.0 71.8h0M544.7 51.0h0M481.1 55.0h0M477.4 55.1h0M503.4 43.0h0M540.6 53.5h0M505.7 53.2h0M503.1 46.0h0M535.1 36.9h0M527.9 64.8h0M517.7 72.1h0M537.6 46.4h0M496.5 57.3h0M492.9 55.5h0M466.3 34.9h0M469.1 17.1h0M516.2 45.1h0M476.5 50.3h0M529.9 63.4h0M517.6 58.3h0M554.4 41.4h0M493.2 73.5h0M555.4 53.4h0M489.1 66.0h0M467.7 40.6h0M531.4 85.9h0M501.6 75.3h0M527.6 67.5h0M527.6 75.6h0M501.1 56.0h0M490.2 56.7h0M558.6 48.3h0M508.5 62.3h0M494.7 55.5h0M515.4 69.6h0M509.2 61.8h0M542.5 60.5h0M490.2 50.9h0M514.3 63.0h0M526.7 65.5h0M548.9 51.7h0M549.6 70.9h0M552.7 86.4h0M518.8 39.0h0M511.6 69.8h0M478.4 64.1h0M490.5 56.9h0M517.7 59.5h0M559.3 67.2h0M476.3 33.1h0M511.6 63.4h0M509.6 37.3h0M548.2 75.3h0M518.8 47.0h0M495.3 61.3h0M518.6 61.4h0M528.7 49.8h0M533.4 71.7h0M526.9 59.2h0M514.6 64.8h0M520.0 81.9h0M552.2 55.8h0M514.9 52.3h0M468.1 81.9h0M524.7 72.0h0M535.0 47.2h0M468.5 43.9h0M546.9 74.5h0M550.5 44.8h0M499.2 70.7h0M470.1 62.1h0M466.6 43.6h0M526.2 59.9h0M511.7 37.4h0M506.1 63.5h0M476.1 45.8h0M521.3 59.1h0M466.6 46.8h0M503.7 75.2h0M528.0 47.1h0M528.6 79.5h0M501.2 60.9h0M527.6 64.1h0M534.6 65.5h0M478.6 41.4h0M472.3 52.5h0M540.0 59.8h0M496.0 54.1h0M480.2 76.6h0M538.3 45.0h0M481.0 69.2h0M481.4 63.7h0M467.9 68.2h0M539.7 44.9h0M555.7 76.8h0M464.6 41.0h0M492.6 54.8h0M473.3 53.9h0M503.5 50.4h0M520.0 55.7h0M504.7 50.5h0M498.8 55.6h0M554.8 48.3h0M519.6 51.9h0M515.7 54.6h0M505.1 72.5h0M472.4 83.3h0M527.1 49.2h0M498.4 30.5h0M496.8 51.3h0M506.8 76.5h0M519.3 48.3h0M522.5 49.1h0M504.8 61.2h0M524.2 31.8h0M531.4 75.3h0M525.6 50.2h0M493.8 63.7h0M523.5 78.4h0M524.4 73.6h0M495.3 41.0h0M497.7 61.5h0M509.6 49.9h0M537.3 39.7h0M498.6 49.2h0M548.8 43.3h0M499.5 70.2h0M525.7 41.6h0M485.0 46.3h0M469.7 48.2h0M534.3 43.6h0M526.0 62.0h0M530.4 55.1h0M490.3 72.9h0M472.0 63.4h0M557.6 66.9h0M486.3 57.5h0M500.9 58.9h0M523.1 82.7h0M512.1 73.6h0M506.6 62.0h0M496.4 56.1h0M516.7 71.3h0M466.0 63.5h0M484.8 76.6h0M546.4 41.8h0" stroke="#000" stroke-width="2.1" stroke-linecap="square" fill="none"/><path d="M563.3 58.3h0M565.2 57.3h0M571.8 70.8h0M569.5 79.1h0M567.6 55.8h0M560.6 58.5h0M570.3 73.8h0M575.1 50.1h0M573.4 55.8h0M580.9 64.7h0M566.8 74.1h0M574.3 51.8h0M562.4 71.9h0M570.0 46.3h0M571.5 55.5h0M564.1 48.0h0M560.7 62.7h0M566.0 54.5h0M559.9 63.5h0M574.3 64.3h0M578.0 52.1h0M562.0 74.8h0M577.0 70.8h0M561.7 74.4h0M568.8 67.1h0M560.2 65.0h0M574.9 57.2h0M567.9 62.0h0M563.6 45.3h0M561.9 50.0h0M565.3 45.1h0M581.3 27.9h0M568.7 77.1h0M579.8 40.5h0M564.7 49.2h0M569.4 58.1h0M570.0 73.2h0M562.3 80.2h0M574.9 63.3h0M569.6 69.9h0M567.3 67.6h0M565.0 57.1h0M577.1 53.1h0M572.7 72.5h0M578.9 56.0h0M581.4 60.7h0M565.9 62.1h0M560.6 82.1h0M576.5 49.4h0M560.9 65.4h0M560.4 72.8h0M575.0 74.0h0M577.6 53.6h0M564.4 47.7h0M572.5 44.9h0M561.4 79.0h0M571.7 57.2h0M566.0 90.2h0M564.4 72.2h0M567.8 74.3h0M571.9 59.9h0M564.1 67.8h0M576.8 46.9h0M565.3 55.0h0M570.4 57.2h0M576.8 70.4h0M575.5 34.7h0M574.5 80.0h0M569.5 61.4h0M568.9 65.5h0M566.9 61.6h0M575.3 63.5h0M580.7 53.1h0M561.0 75.4h0M576.9 62.2h0M572.6 65.1h0M565.3 64.1h0M574.8 80.2h0M571.1 72.2h0M571.0 60.3h0M575.2 67.3h0M580.8 56.9h0M575.1 64.2h0M569.1 68.8h0M563.3 55.1h0M576.8 79.4h0M578.2 69.4h0M580.5 48.3h0M563.8 63.7h0M580.3 56.5h0M564.2 64.1h0M564.4 62.6h0M571.0 66.8h0M559.8 67.6h0M577.6 59.6h0M564.4 73.8h0M572.7 48.9h0M578.5 49.8h0M568.7 80.6h0M576.3 78.4h0M567.3 52.5h0M562.4 73.9h0M574.7 66.5h0M573.7 79.5h0M565.0 71.3h0M578.1 52.4h0M575.1 66.7h0M563.7 73.8h0M574.0 47.9h0M570.7 62.9h0M570.8 64.4h0M566.0 72.7h0M575.2 67.5h0M568.6 59.3h0M563.8 52.3h0M575.1 62.6h0M581.0 62.8h0M579.4 49.7h0M573.5 50.1h0M565.1 55.3h0M563.1 77.1h0M571.2 65.5h0M581.3 57.2h0M579.5 45.4h0M566.2 50.7h0M574.7 64.6h0M572.2 56.3h0M564.8 61.7h0M567.1 69.5h0M565.9 34.4h0M572.3 41.7h0M571.4 56.3h0M576.6 77.5h0M569.0 62.7h0M560.9 66.4h0M570.8 65.2h0M560.5 85.3h0M566.1 57.4h0M574.4 86.9h0M561.7 64.2h0M569.3 39.9h0M581.3 42.5h0M581.0 44.4h0M581.1 52.5h0M569.5 55.9h0M579.3 72.2h0M564.9 65.0h0M577.1 65.5h0M571.0 62.6h0M579.4 65.7h0M577.6 49.8h0M564.7 50.1h0M572.6 72.9h0M579.6 58.0h0M564.1 71.4h0M564.8 82.4h0M577.9 76.8h0M580.8 62.0h0M576.7 62.2h0M566.6 49.6h0M564.7 45.2h0M571.4 74.2h0M562.9 67.6h0M575.9 74.2h0M563.5 63.1h0M573.2 68.6h0M559.6 41.9h0M569.3 68.8h0M579.8 51.5h0M567.8 55.1h0M579.3 57.0h0M575.3 61.1h0M572.0 70.3h0M572.4 60.1h0M579.1 70.1h0M567.1 69.4h0M570.3 79.0h0M567.0 59.4h0M562.2 49.6h0M569.3 68.7h0M560.6 49.6h0M570.5 78.1h0M564.7 73.9h0M560.0 73.1h0M561.4 53.4h0M571.1 60.5h0M561.5 56.5h0M562.6 66.9h0M577.0 65.9h0M579.6 68.8h0M564.6 65.2h0M573.2 55.5h0M572.7 68.0h0M566.9 74.2h0M571.7 76.2h0M575.1 72.2h0M561.1 44.3h0M576.3 82.7h0M565.1 70.8h0M565.2 65.0h0M561.5 42.2h0M565.6 60.2h0M577.1 64.0h0M574.4 53.5h0M568.7 41.4h0M580.5 34.6h0M574.8 74.4h0M570.2 42.9h0M565.4 72.0h0M565.2 62.7h0M562.2 51.5h0M572.9 45.4h0M580.6 61.8h0M575.7 65.0h0M568.3 66.1h0M559.9 64.4h0M559.8 58.4h0M569.0 85.2h0M579.0 62.2h0M580.3 51.3h0M564.8 71.9h0M562.4 67.7h0M562.5 79.1h0M565.2 60.8h0M561.9 51.3h0M564.7 64.4h0M565.4 80.4h0M579.7 58.0h0M575.2 71.5h0M563.3 66.8h0M577.3 63.8h0M579.6 36.0h0M571.8 74.9h0M563.9 72.7h0M568.9 52.7h0M580.0 50.9h0M574.1 88.7h0M560.3 58.4h0M580.6 38.7h0M560.7 56.4h0M567.4 58.7h0M565.3 52.6h0M569.8 59.3h0M565.5 64.9h0M570.9 77.0h0M581.1 70.5h0M565.0 71.8h0M567.9 84.6h0M571.6 46.3h0M561.0 63.8h0M562.3 57.3h0M576.5 62.4h0M581.1 54.0h0M581.3 60.0h0M573.6 54.8h0M569.8 59.7h0M564.6 76.7h0M566.3 63.5h0M570.1 64.8h0M562.8 41.7h0" stroke="#00ff00" stroke-width="2.1" stroke-linecap="square" fill="none"/><path d="M595.8 57.3h0M586.7 52.3h0M582.3 73.8h0M588.8 45.3h0M596.7 53.1h0M582.2 35.7h0M586.3 50.4h0M589.4 41.9h0M584.2 67.9h0M597.4 58.8h0M592.3 50.5h0M586.1 36.9h0M589.2 50.4h0M588.4 71.7h0M587.4 72.9h0M590.7 69.7h0M590.4 59.6h0M592.3 46.2h0M593.6 52.4h0M598.2 54.1h0M595.3 47.1h0M594.4 62.0h0M595.1 85.0h0M589.0 68.2h0M597.3 62.0h0M600.5 40.5h0M582.9 68.0h0M588.9 71.9h0M582.0 79.3h0M584.7 44.8h0M581.6 47.7h0M591.1 66.4h0M597.9 66.0h0M582.8 67.9h0M584.5 52.1h0M588.5 59.1h0M595.7 40.1h0M588.5 53.0h0M592.2 48.4h0M583.3 65.2h0M586.0 26.2h0M582.4 39.1h0M584.5 56.3h0M588.7 69.4h0M585.4 68.1h0M586.2 24.3h0M593.1 42.5h0M582.1 44.8h0M586.2 62.1h0M582.2 67.2h0M581.8 56.5h0M581.4 63.3h0M589.8 45.1h0M585.0 65.2h0M582.9 57.1h0M585.5 65.8h0M588.6 62.5h0M589.6 51.9h0M595.0 45.0h0M582.4 54.8h0M597.4 46.5h0M585.9 61.7h0M589.5 56.9h0M584.5 54.8h0M584.1 57.6h0M599.3 49.9h0M590.7 59.4h0M594.6 54.6h0M584.3 42.7h0M585.8 65.9h0M597.1 70.2h0M591.5 51.3h0M583.1 61.4h0M591.4 52.1h0M585.7 39.9h0M584.5 75.1h0M582.9 52.6h0M582.4 62.3h0M585.4 60.6h0M590.2 64.8h0M590.5 36.7h0M583.8 37.1h0M583.9 52.1h0M596.3 60.8h0M590.9 63.7h0M589.8 60.7h0M598.4 48.9h0M583.0 50.1h0M587.9 29.8h0M591.6 65.4h0M598.9 44.6h0M588.7 47.8h0M598.4 46.2h0M587.4 48.0h0M584.8 57.1h0M588.1 32.1h0M582.8 30.8h0M593.9 39.8h0M587.2 59.9h0M591.9 37.3h0M581.8 38.4h0M590.4 34.2h0M583.8 61.4h0M584.2 68.0h0M591.3 56.0h0M585.6 53.4h0M586.9 28.0h0M582.7 45.7h0M582.0 56.8h0M600.5 58.8h0M586.6 59.3h0M586.2 62.9h0M588.6 49.7h0M584.5 60.5h0M584.9 41.4h0M587.0 61.7h0M592.7 56.0h0M589.1 57.2h0M587.5 34.2h0M584.0 43.1h0M587.5 51.6h0M582.6 58.9h0M587.6 55.8h0M593.3 48.4h0M586.9 69.6h0M600.7 64.7h0M583.6 35.5h0M599.0 50.6h0M594.0 51.2h0M581.8 69.4h0M590.0 66.9h0M599.4 34.9h0M600.9 50.8h0M587.2 48.3h0M590.9 57.7h0M585.3 52.9h0M600.7 62.9h0M582.3 51.7h0M587.9 58.9h0M595.2 41.4h0" stroke="#0000ff" stroke-width="2.1" stroke-linecap="square" fill="none"/><path d="M624.9 64.5h0M606.8 67.5h0M607.1 67.0h0M624.4 69.4h0M610.0 47.5h0M602.2 82.6h0M615.3 53.0h0M634.3 52.6h0M618.0 64.8h0M609.0 79.9h0M609.0 56.0h0M613.1 73.7h0M607.1 59.8h0M623.6 61.7h0M601.6 53.6h0M602.8 41.1h0M616.7 53.6h0M623.9 53.8h0M625.1 52.9h0M633.9 61.0h0M611.3 58.7h0M612.2 56.6h0M625.1 55.9h0M610.1 63.0h0M627.6 83.8h0M613.9 48.7h0M611.5 58.3h0M606.1 54.4h0M617.9 68.2h0M630.9 67.2h0M628.5 56.7h0M625.3 41.4h0M614.4 56.7h0M620.0 59.8h0M610.2 51.1h0M618.4 53.6h0M633.6 58.5h0M601.4 59.8h0M602.8 54.9h0M626.1 65.4h0M615.3 57.1h0M609.2 59.9h0M619.4 43.0h0M629.7 68.7h0M604.9 54.0h0M608.3 60.3h0M624.6 53.0h0M609.2 52.5h0M617.3 71.0h0M613.8 82.0h0M601.8 47.4h0M606.9 57.5h0M613.5 46.7h0M602.5 55.0h0" stroke="#ff0000" stroke-width="2.1" stroke-linecap="square" fill="none"/></g>
<rect x="387.8" y="0.95" width="247.49999999999994" height="308.45" fill="none" stroke="#000" stroke-width="1.7"/>
<line x1="387.80" y1="120.80" x2="635.30" y2="120.80" stroke="#000" stroke-width="1.5"/>
<line x1="400.10" y1="0.95" x2="400.10" y2="3.55" stroke="#000" stroke-width="1.6"/>
<line x1="400.10" y1="120.80" x2="400.10" y2="118.20" stroke="#000" stroke-width="1.6"/>
<line x1="400.10" y1="120.80" x2="400.10" y2="123.40" stroke="#000" stroke-width="1.6"/>
<line x1="400.10" y1="309.40" x2="400.10" y2="306.80" stroke="#000" stroke-width="1.6"/>
<line x1="412.50" y1="0.95" x2="412.50" y2="5.95" stroke="#000" stroke-width="1.6"/>
<line x1="412.50" y1="120.80" x2="412.50" y2="115.80" stroke="#000" stroke-width="1.6"/>
<line x1="412.50" y1="120.80" x2="412.50" y2="125.80" stroke="#000" stroke-width="1.6"/>
<line x1="412.50" y1="309.40" x2="412.50" y2="304.40" stroke="#000" stroke-width="1.6"/>
<line x1="424.90" y1="0.95" x2="424.90" y2="3.55" stroke="#000" stroke-width="1.6"/>
<line x1="424.90" y1="120.80" x2="424.90" y2="118.20" stroke="#000" stroke-width="1.6"/>
<line x1="424.90" y1="120.80" x2="424.90" y2="123.40" stroke="#000" stroke-width="1.6"/>
<line x1="424.90" y1="309.40" x2="424.90" y2="306.80" stroke="#000" stroke-width="1.6"/>
<line x1="437.30" y1="0.95" x2="437.30" y2="3.55" stroke="#000" stroke-width="1.6"/>
<line x1="437.30" y1="120.80" x2="437.30" y2="118.20" stroke="#000" stroke-width="1.6"/>
<line x1="437.30" y1="120.80" x2="437.30" y2="123.40" stroke="#000" stroke-width="1.6"/>
<line x1="437.30" y1="309.40" x2="437.30" y2="306.80" stroke="#000" stroke-width="1.6"/>
<line x1="449.70" y1="0.95" x2="449.70" y2="3.55" stroke="#000" stroke-width="1.6"/>
<line x1="449.70" y1="120.80" x2="449.70" y2="118.20" stroke="#000" stroke-width="1.6"/>
<line x1="449.70" y1="120.80" x2="449.70" y2="123.40" stroke="#000" stroke-width="1.6"/>
<line x1="449.70" y1="309.40" x2="449.70" y2="306.80" stroke="#000" stroke-width="1.6"/>
<line x1="462.10" y1="0.95" x2="462.10" y2="5.95" stroke="#000" stroke-width="1.6"/>
<line x1="462.10" y1="120.80" x2="462.10" y2="115.80" stroke="#000" stroke-width="1.6"/>
<line x1="462.10" y1="120.80" x2="462.10" y2="125.80" stroke="#000" stroke-width="1.6"/>
<line x1="462.10" y1="309.40" x2="462.10" y2="304.40" stroke="#000" stroke-width="1.6"/>
<line x1="474.50" y1="0.95" x2="474.50" y2="3.55" stroke="#000" stroke-width="1.6"/>
<line x1="474.50" y1="120.80" x2="474.50" y2="118.20" stroke="#000" stroke-width="1.6"/>
<line x1="474.50" y1="120.80" x2="474.50" y2="123.40" stroke="#000" stroke-width="1.6"/>
<line x1="474.50" y1="309.40" x2="474.50" y2="306.80" stroke="#000" stroke-width="1.6"/>
<line x1="486.90" y1="0.95" x2="486.90" y2="3.55" stroke="#000" stroke-width="1.6"/>
<line x1="486.90" y1="120.80" x2="486.90" y2="118.20" stroke="#000" stroke-width="1.6"/>
<line x1="486.90" y1="120.80" x2="486.90" y2="123.40" stroke="#000" stroke-width="1.6"/>
<line x1="486.90" y1="309.40" x2="486.90" y2="306.80" stroke="#000" stroke-width="1.6"/>
<line x1="499.30" y1="0.95" x2="499.30" y2="3.55" stroke="#000" stroke-width="1.6"/>
<line x1="499.30" y1="120.80" x2="499.30" y2="118.20" stroke="#000" stroke-width="1.6"/>
<line x1="499.30" y1="120.80" x2="499.30" y2="123.40" stroke="#000" stroke-width="1.6"/>
<line x1="499.30" y1="309.40" x2="499.30" y2="306.80" stroke="#000" stroke-width="1.6"/>
<line x1="511.70" y1="0.95" x2="511.70" y2="5.95" stroke="#000" stroke-width="1.6"/>
<line x1="511.70" y1="120.80" x2="511.70" y2="115.80" stroke="#000" stroke-width="1.6"/>
<line x1="511.70" y1="120.80" x2="511.70" y2="125.80" stroke="#000" stroke-width="1.6"/>
<line x1="511.70" y1="309.40" x2="511.70" y2="304.40" stroke="#000" stroke-width="1.6"/>
<line x1="524.10" y1="0.95" x2="524.10" y2="3.55" stroke="#000" stroke-width="1.6"/>
<line x1="524.10" y1="120.80" x2="524.10" y2="118.20" stroke="#000" stroke-width="1.6"/>
<line x1="524.10" y1="120.80" x2="524.10" y2="123.40" stroke="#000" stroke-width="1.6"/>
<line x1="524.10" y1="309.40" x2="524.10" y2="306.80" stroke="#000" stroke-width="1.6"/>
<line x1="536.50" y1="0.95" x2="536.50" y2="3.55" stroke="#000" stroke-width="1.6"/>
<line x1="536.50" y1="120.80" x2="536.50" y2="118.20" stroke="#000" stroke-width="1.6"/>
<line x1="536.50" y1="120.80" x2="536.50" y2="123.40" stroke="#000" stroke-width="1.6"/>
<line x1="536.50" y1="309.40" x2="536.50" y2="306.80" stroke="#000" stroke-width="1.6"/>
<line x1="548.90" y1="0.95" x2="548.90" y2="3.55" stroke="#000" stroke-width="1.6"/>
<line x1="548.90" y1="120.80" x2="548.90" y2="118.20" stroke="#000" stroke-width="1.6"/>
<line x1="548.90" y1="120.80" x2="548.90" y2="123.40" stroke="#000" stroke-width="1.6"/>
<line x1="548.90" y1="309.40" x2="548.90" y2="306.80" stroke="#000" stroke-width="1.6"/>
<line x1="561.30" y1="0.95" x2="561.30" y2="5.95" stroke="#000" stroke-width="1.6"/>
<line x1="561.30" y1="120.80" x2="561.30" y2="115.80" stroke="#000" stroke-width="1.6"/>
<line x1="561.30" y1="120.80" x2="561.30" y2="125.80" stroke="#000" stroke-width="1.6"/>
<line x1="561.30" y1="309.40" x2="561.30" y2="304.40" stroke="#000" stroke-width="1.6"/>
<line x1="573.70" y1="0.95" x2="573.70" y2="3.55" stroke="#000" stroke-width="1.6"/>
<line x1="573.70" y1="120.80" x2="573.70" y2="118.20" stroke="#000" stroke-width="1.6"/>
<line x1="573.70" y1="120.80" x2="573.70" y2="123.40" stroke="#000" stroke-width="1.6"/>
<line x1="573.70" y1="309.40" x2="573.70" y2="306.80" stroke="#000" stroke-width="1.6"/>
<line x1="586.10" y1="0.95" x2="586.10" y2="3.55" stroke="#000" stroke-width="1.6"/>
<line x1="586.10" y1="120.80" x2="586.10" y2="118.20" stroke="#000" stroke-width="1.6"/>
<line x1="586.10" y1="120.80" x2="586.10" y2="123.40" stroke="#000" stroke-width="1.6"/>
<line x1="586.10" y1="309.40" x2="586.10" y2="306.80" stroke="#000" stroke-width="1.6"/>
<line x1="598.50" y1="0.95" x2="598.50" y2="3.55" stroke="#000" stroke-width="1.6"/>
<line x1="598.50" y1="120.80" x2="598.50" y2="118.20" stroke="#000" stroke-width="1.6"/>
<line x1="598.50" y1="120.80" x2="598.50" y2="123.40" stroke="#000" stroke-width="1.6"/>
<line x1="598.50" y1="309.40" x2="598.50" y2="306.80" stroke="#000" stroke-width="1.6"/>
<line x1="610.90" y1="0.95" x2="610.90" y2="5.95" stroke="#000" stroke-width="1.6"/>
<line x1="610.90" y1="120.80" x2="610.90" y2="115.80" stroke="#000" stroke-width="1.6"/>
<line x1="610.90" y1="120.80" x2="610.90" y2="125.80" stroke="#000" stroke-width="1.6"/>
<line x1="610.90" y1="309.40" x2="610.90" y2="304.40" stroke="#000" stroke-width="1.6"/>
<line x1="623.30" y1="0.95" x2="623.30" y2="3.55" stroke="#000" stroke-width="1.6"/>
<line x1="623.30" y1="120.80" x2="623.30" y2="118.20" stroke="#000" stroke-width="1.6"/>
<line x1="623.30" y1="120.80" x2="623.30" y2="123.40" stroke="#000" stroke-width="1.6"/>
<line x1="623.30" y1="309.40" x2="623.30" y2="306.80" stroke="#000" stroke-width="1.6"/>
<line x1="387.80" y1="116.22" x2="390.40" y2="116.22" stroke="#000" stroke-width="1.6"/>
<line x1="635.30" y1="116.22" x2="632.70" y2="116.22" stroke="#000" stroke-width="1.6"/>
<line x1="387.80" y1="108.26" x2="390.40" y2="108.26" stroke="#000" stroke-width="1.6"/>
<line x1="635.30" y1="108.26" x2="632.70" y2="108.26" stroke="#000" stroke-width="1.6"/>
<line x1="387.80" y1="100.30" x2="392.80" y2="100.30" stroke="#000" stroke-width="1.6"/>
<line x1="635.30" y1="100.30" x2="630.30" y2="100.30" stroke="#000" stroke-width="1.6"/>
<line x1="387.80" y1="92.34" x2="390.40" y2="92.34" stroke="#000" stroke-width="1.6"/>
<line x1="635.30" y1="92.34" x2="632.70" y2="92.34" stroke="#000" stroke-width="1.6"/>
<line x1="387.80" y1="84.38" x2="390.40" y2="84.38" stroke="#000" stroke-width="1.6"/>
<line x1="635.30" y1="84.38" x2="632.70" y2="84.38" stroke="#000" stroke-width="1.6"/>
<line x1="387.80" y1="76.42" x2="390.40" y2="76.42" stroke="#000" stroke-width="1.6"/>
<line x1="635.30" y1="76.42" x2="632.70" y2="76.42" stroke="#000" stroke-width="1.6"/>
<line x1="387.80" y1="68.46" x2="390.40" y2="68.46" stroke="#000" stroke-width="1.6"/>
<line x1="635.30" y1="68.46" x2="632.70" y2="68.46" stroke="#000" stroke-width="1.6"/>
<line x1="387.80" y1="60.50" x2="392.80" y2="60.50" stroke="#000" stroke-width="1.6"/>
<line x1="635.30" y1="60.50" x2="630.30" y2="60.50" stroke="#000" stroke-width="1.6"/>
<line x1="387.80" y1="52.54" x2="390.40" y2="52.54" stroke="#000" stroke-width="1.6"/>
<line x1="635.30" y1="52.54" x2="632.70" y2="52.54" stroke="#000" stroke-width="1.6"/>
<line x1="387.80" y1="44.58" x2="390.40" y2="44.58" stroke="#000" stroke-width="1.6"/>
<line x1="635.30" y1="44.58" x2="632.70" y2="44.58" stroke="#000" stroke-width="1.6"/>
<line x1="387.80" y1="36.62" x2="390.40" y2="36.62" stroke="#000" stroke-width="1.6"/>
<line x1="635.30" y1="36.62" x2="632.70" y2="36.62" stroke="#000" stroke-width="1.6"/>
<line x1="387.80" y1="28.66" x2="390.40" y2="28.66" stroke="#000" stroke-width="1.6"/>
<line x1="635.30" y1="28.66" x2="632.70" y2="28.66" stroke="#000" stroke-width="1.6"/>
<line x1="387.80" y1="20.70" x2="392.80" y2="20.70" stroke="#000" stroke-width="1.6"/>
<line x1="635.30" y1="20.70" x2="630.30" y2="20.70" stroke="#000" stroke-width="1.6"/>
<line x1="387.80" y1="12.74" x2="390.40" y2="12.74" stroke="#000" stroke-width="1.6"/>
<line x1="635.30" y1="12.74" x2="632.70" y2="12.74" stroke="#000" stroke-width="1.6"/>
<line x1="387.80" y1="4.78" x2="390.40" y2="4.78" stroke="#000" stroke-width="1.6"/>
<line x1="635.30" y1="4.78" x2="632.70" y2="4.78" stroke="#000" stroke-width="1.6"/>
<text x="381.60" y="27.70" font-size="14" text-anchor="end" fill="#000" stroke="#000" stroke-width="0.3" >0.2</text>
<line x1="351.40" y1="23.10" x2="360.30" y2="23.10" stroke="#000" stroke-width="1.3"/>
<line x1="355.85" y1="18.60" x2="355.85" y2="27.70" stroke="#000" stroke-width="1.3"/>
<text x="381.60" y="67.50" font-size="14" text-anchor="end" fill="#000" stroke="#000" stroke-width="0.3" >0.0</text>
<text x="381.60" y="107.30" font-size="14" text-anchor="end" fill="#000" stroke="#000" stroke-width="0.3" >-0.2</text>
<text x="396.00" y="20.50" font-size="16.5" text-anchor="start" fill="#000" stroke="#000" stroke-width="0.3" >B.</text>
<text x="427.00" y="110.30" font-size="16" text-anchor="start" fill="#808080" stroke="#808080" stroke-width="0.3" >S5</text>
<text x="502.00" y="110.30" font-size="16" text-anchor="start" fill="#000" stroke="#000" stroke-width="0.3" >S4</text>
<text x="557.00" y="110.30" font-size="16" text-anchor="start" fill="#00ff00" stroke="#00ff00" stroke-width="0.3" >S3</text>
<text x="581.40" y="110.30" font-size="16" text-anchor="start" fill="#0000ff" stroke="#0000ff" stroke-width="0.3" >S2</text>
<text x="606.50" y="110.30" font-size="16" text-anchor="start" fill="#ff0000" stroke="#ff0000" stroke-width="0.3" >S1</text>
<text transform="translate(333.2,60.6) rotate(-90)" font-size="14.8" text-anchor="middle" stroke="#000" stroke-width="0.3">Y<tspan font-size="9" dy="4.4">PW</tspan></text>
<line x1="387.80" y1="308.10" x2="390.40" y2="308.10" stroke="#000" stroke-width="1.6"/>
<line x1="635.30" y1="308.10" x2="632.70" y2="308.10" stroke="#000" stroke-width="1.6"/>
<line x1="387.80" y1="300.10" x2="392.80" y2="300.10" stroke="#000" stroke-width="1.6"/>
<line x1="635.30" y1="300.10" x2="630.30" y2="300.10" stroke="#000" stroke-width="1.6"/>
<line x1="387.80" y1="292.10" x2="390.40" y2="292.10" stroke="#000" stroke-width="1.6"/>
<line x1="635.30" y1="292.10" x2="632.70" y2="292.10" stroke="#000" stroke-width="1.6"/>
<line x1="387.80" y1="284.10" x2="390.40" y2="284.10" stroke="#000" stroke-width="1.6"/>
<line x1="635.30" y1="284.10" x2="632.70" y2="284.10" stroke="#000" stroke-width="1.6"/>
<line x1="387.80" y1="276.10" x2="390.40" y2="276.10" stroke="#000" stroke-width="1.6"/>
<line x1="635.30" y1="276.10" x2="632.70" y2="276.10" stroke="#000" stroke-width="1.6"/>
<line x1="387.80" y1="268.10" x2="390.40" y2="268.10" stroke="#000" stroke-width="1.6"/>
<line x1="635.30" y1="268.10" x2="632.70" y2="268.10" stroke="#000" stroke-width="1.6"/>
<line x1="387.80" y1="260.10" x2="392.80" y2="260.10" stroke="#000" stroke-width="1.6"/>
<line x1="635.30" y1="260.10" x2="630.30" y2="260.10" stroke="#000" stroke-width="1.6"/>
<line x1="387.80" y1="252.10" x2="390.40" y2="252.10" stroke="#000" stroke-width="1.6"/>
<line x1="635.30" y1="252.10" x2="632.70" y2="252.10" stroke="#000" stroke-width="1.6"/>
<line x1="387.80" y1="244.10" x2="390.40" y2="244.10" stroke="#000" stroke-width="1.6"/>
<line x1="635.30" y1="244.10" x2="632.70" y2="244.10" stroke="#000" stroke-width="1.6"/>
<line x1="387.80" y1="236.10" x2="390.40" y2="236.10" stroke="#000" stroke-width="1.6"/>
<line x1="635.30" y1="236.10" x2="632.70" y2="236.10" stroke="#000" stroke-width="1.6"/>
<line x1="387.80" y1="228.10" x2="390.40" y2="228.10" stroke="#000" stroke-width="1.6"/>
<line x1="635.30" y1="228.10" x2="632.70" y2="228.10" stroke="#000" stroke-width="1.6"/>
<line x1="387.80" y1="220.10" x2="392.80" y2="220.10" stroke="#000" stroke-width="1.6"/>
<line x1="635.30" y1="220.10" x2="630.30" y2="220.10" stroke="#000" stroke-width="1.6"/>
<line x1="387.80" y1="212.10" x2="390.40" y2="212.10" stroke="#000" stroke-width="1.6"/>
<line x1="635.30" y1="212.10" x2="632.70" y2="212.10" stroke="#000" stroke-width="1.6"/>
<line x1="387.80" y1="204.10" x2="390.40" y2="204.10" stroke="#000" stroke-width="1.6"/>
<line x1="635.30" y1="204.10" x2="632.70" y2="204.10" stroke="#000" stroke-width="1.6"/>
<line x1="387.80" y1="196.10" x2="390.40" y2="196.10" stroke="#000" stroke-width="1.6"/>
<line x1="635.30" y1="196.10" x2="632.70" y2="196.10" stroke="#000" stroke-width="1.6"/>
<line x1="387.80" y1="188.10" x2="390.40" y2="188.10" stroke="#000" stroke-width="1.6"/>
<line x1="635.30" y1="188.10" x2="632.70" y2="188.10" stroke="#000" stroke-width="1.6"/>
<line x1="387.80" y1="180.10" x2="392.80" y2="180.10" stroke="#000" stroke-width="1.6"/>
<line x1="635.30" y1="180.10" x2="630.30" y2="180.10" stroke="#000" stroke-width="1.6"/>
<line x1="387.80" y1="172.10" x2="390.40" y2="172.10" stroke="#000" stroke-width="1.6"/>
<line x1="635.30" y1="172.10" x2="632.70" y2="172.10" stroke="#000" stroke-width="1.6"/>
<line x1="387.80" y1="164.10" x2="390.40" y2="164.10" stroke="#000" stroke-width="1.6"/>
<line x1="635.30" y1="164.10" x2="632.70" y2="164.10" stroke="#000" stroke-width="1.6"/>
<line x1="387.80" y1="156.10" x2="390.40" y2="156.10" stroke="#000" stroke-width="1.6"/>
<line x1="635.30" y1="156.10" x2="632.70" y2="156.10" stroke="#000" stroke-width="1.6"/>
<line x1="387.80" y1="148.10" x2="390.40" y2="148.10" stroke="#000" stroke-width="1.6"/>
<line x1="635.30" y1="148.10" x2="632.70" y2="148.10" stroke="#000" stroke-width="1.6"/>
<line x1="387.80" y1="140.10" x2="392.80" y2="140.10" stroke="#000" stroke-width="1.6"/>
<line x1="635.30" y1="140.10" x2="630.30" y2="140.10" stroke="#000" stroke-width="1.6"/>
<line x1="387.80" y1="132.10" x2="390.40" y2="132.10" stroke="#000" stroke-width="1.6"/>
<line x1="635.30" y1="132.10" x2="632.70" y2="132.10" stroke="#000" stroke-width="1.6"/>
<line x1="387.80" y1="124.10" x2="390.40" y2="124.10" stroke="#000" stroke-width="1.6"/>
<line x1="635.30" y1="124.10" x2="632.70" y2="124.10" stroke="#000" stroke-width="1.6"/>
<text x="381.20" y="307.10" font-size="14" text-anchor="end" fill="#000" stroke="#000" stroke-width="0.3" >0</text>
<text x="381.20" y="267.10" font-size="14" text-anchor="end" fill="#000" stroke="#000" stroke-width="0.3" >25</text>
<text x="381.20" y="227.10" font-size="14" text-anchor="end" fill="#000" stroke="#000" stroke-width="0.3" >50</text>
<text x="381.20" y="187.10" font-size="14" text-anchor="end" fill="#000" stroke="#000" stroke-width="0.3" >75</text>
<text x="381.20" y="147.10" font-size="14" text-anchor="end" fill="#000" stroke="#000" stroke-width="0.3" >100</text>
<text x="412.50" y="336.00" font-size="14" text-anchor="middle" fill="#000" stroke="#000" stroke-width="0.3" >-0.4</text>
<text x="462.10" y="336.00" font-size="14" text-anchor="middle" fill="#000" stroke="#000" stroke-width="0.3" >-0.2</text>
<text x="511.70" y="336.00" font-size="14" text-anchor="middle" fill="#000" stroke="#000" stroke-width="0.3" >0.0</text>
<text x="561.30" y="336.00" font-size="14" text-anchor="middle" fill="#000" stroke="#000" stroke-width="0.3" >0.2</text>
<text x="610.90" y="336.00" font-size="14" text-anchor="middle" fill="#000" stroke="#000" stroke-width="0.3" >0.4</text>
<text x="396.50" y="150.40" font-size="16.5" text-anchor="start" fill="#000" stroke="#000" stroke-width="0.3" >C.</text>
<text transform="translate(333.2,203.2) rotate(-90)" font-size="14.8" text-anchor="middle" stroke="#000" stroke-width="0.3">Number/Peak [%]</text>
<text x="511.7" y="358.6" font-size="14.8" text-anchor="middle" stroke="#000" stroke-width="0.3">X<tspan font-size="9" dy="4.4">PW</tspan></text>
<path d="M387.70 299.00H390.80V299.30H397.00V299.40H400.10" fill="none" stroke="#000" stroke-width="3.0" stroke-linejoin="miter" stroke-linecap="butt"/>
<path d="M400.10 299.40H403.20V297.00H409.40V298.20H415.60V290.70H421.80V285.90H428.00V274.90H434.20V262.00H440.40V247.40H446.60V236.50H452.80V189.20H455.90" fill="none" stroke="#808080" stroke-width="2.3" stroke-linejoin="miter" stroke-linecap="butt"/>
<path d="M455.90 189.20H459.00V208.50H465.20V196.00H471.40V180.00H477.60V168.90H483.80V145.20H490.00V173.80H496.20V140.30H502.40V160.00H508.60V169.60H514.80V164.00H521.00V162.90H527.20V183.10H533.40V194.00H539.60V197.90H545.80V211.50H552.00V220.20H555.10" fill="none" stroke="#000" stroke-width="2.6" stroke-linejoin="miter" stroke-linecap="butt"/>
<path d="M555.10 220.20H558.20V230.00H564.40V245.00H570.60V251.20H576.80V252.30H579.90" fill="none" stroke="#00ff00" stroke-width="2.3" stroke-linejoin="miter" stroke-linecap="butt"/>
<path d="M579.90 252.30H583.00V263.90H589.20V276.50H595.40V286.50H598.50" fill="none" stroke="#0000ff" stroke-width="2.3" stroke-linejoin="miter" stroke-linecap="butt"/>
<path d="M598.50 286.50H601.60V288.30H607.80V290.30H614.00V295.60H620.20V290.10H626.40V294.90H632.60V298.00H635.70H635.30" fill="none" stroke="#ff0000" stroke-width="2.3" stroke-linejoin="miter" stroke-linecap="butt"/>
</svg></body></html>
